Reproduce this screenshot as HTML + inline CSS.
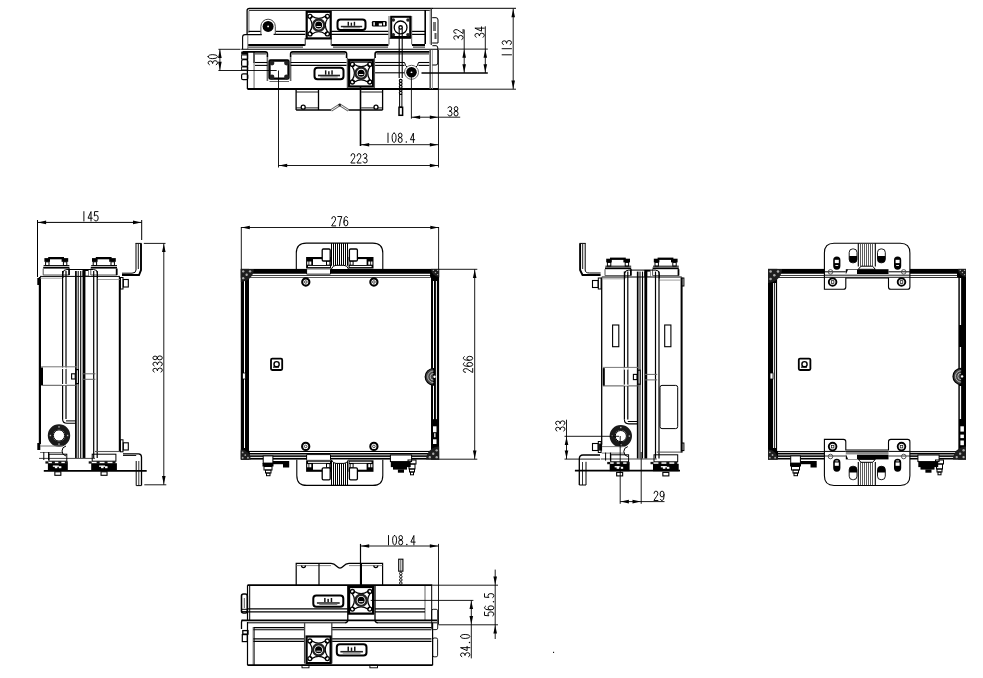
<!DOCTYPE html>
<html><head><meta charset="utf-8"><style>
html,body{margin:0;padding:0;background:#fff;}
body{width:983px;height:678px;overflow:hidden;}
svg{display:block;}
text{font-family:"Liberation Sans",sans-serif;fill:#000;}
</style></head><body>
<svg width="983" height="678" viewBox="0 0 983 678">
<rect width="983" height="678" fill="#fff"/>
<line x1="39.9" y1="277" x2="39.9" y2="444" stroke="#000" stroke-width="2.2"/>
<line x1="119.8" y1="277" x2="119.8" y2="452" stroke="#000" stroke-width="2.0"/>
<line x1="40" y1="276.4" x2="120" y2="276.4" stroke="#000" stroke-width="1.0"/>
<line x1="40" y1="278.2" x2="63" y2="278.2" stroke="#888" stroke-width="0.8"/>
<line x1="97" y1="279.5" x2="120" y2="279.5" stroke="#888" stroke-width="0.8"/>
<rect x="48.2" y="257.0" width="15.8" height="2.3" rx="0" fill="#000"/>
<rect x="44.4" y="258.1" width="5.6" height="3.7" rx="0" fill="#000"/>
<rect x="61.6" y="258.1" width="6.6" height="3.7" rx="0" fill="#000"/>
<rect x="45.6" y="261.8" width="3.4" height="3.7" rx="0" fill="none" stroke="#000" stroke-width="1.0"/>
<rect x="63.4" y="261.8" width="3.4" height="3.7" rx="0" fill="none" stroke="#000" stroke-width="1.0"/>
<line x1="43.6" y1="265.6" x2="69.4" y2="265.6" stroke="#000" stroke-width="1.0"/>
<rect x="43.2" y="266.8" width="26.2" height="1.8" rx="0" fill="#000"/>
<path d="M43.2,268.6 L43.2,275 L69.4,275 L69.4,268.6" fill="none" stroke="#555" stroke-width="1.0"/>
<line x1="69.0" y1="268.6" x2="69.0" y2="275" stroke="#000" stroke-width="1.6"/>
<rect x="95.8" y="257.0" width="15.8" height="2.3" rx="0" fill="#000"/>
<rect x="92.0" y="258.1" width="5.6" height="3.7" rx="0" fill="#000"/>
<rect x="109.2" y="258.1" width="6.6" height="3.7" rx="0" fill="#000"/>
<rect x="93.2" y="261.8" width="3.4" height="3.7" rx="0" fill="none" stroke="#000" stroke-width="1.0"/>
<rect x="111.0" y="261.8" width="3.4" height="3.7" rx="0" fill="none" stroke="#000" stroke-width="1.0"/>
<line x1="91.2" y1="265.6" x2="117.0" y2="265.6" stroke="#000" stroke-width="1.0"/>
<rect x="90.8" y="266.8" width="26.2" height="1.8" rx="0" fill="#000"/>
<path d="M90.8,268.6 L90.8,275 L117.0,275 L117.0,268.6" fill="none" stroke="#555" stroke-width="1.0"/>
<line x1="116.6" y1="268.6" x2="116.6" y2="275" stroke="#000" stroke-width="1.6"/>
<path d="M63,278 L63,273 Q63,269.5 67,269.5 L93.5,269.5 Q97.5,269.5 97.5,273 L97.5,278" fill="none" stroke="#000" stroke-width="1.0"/>
<line x1="75.9" y1="271" x2="75.9" y2="458" stroke="#000" stroke-width="1.7"/>
<line x1="78.2" y1="271" x2="78.2" y2="458" stroke="#000" stroke-width="1.0"/>
<line x1="80.7" y1="271" x2="80.7" y2="458" stroke="#000" stroke-width="1.1"/>
<line x1="84.0" y1="271" x2="84.0" y2="458" stroke="#000" stroke-width="2.8"/>
<line x1="93.7" y1="271" x2="93.7" y2="458" stroke="#000" stroke-width="1.2"/>
<line x1="97.2" y1="271" x2="97.2" y2="458" stroke="#000" stroke-width="1.2"/>
<line x1="62.6" y1="271" x2="62.6" y2="419" stroke="#000" stroke-width="1.2"/>
<line x1="66.0" y1="271" x2="66.0" y2="419" stroke="#000" stroke-width="1.2"/>
<rect x="82.5" y="269.3" width="6.1" height="6.7" rx="0" fill="#000"/>
<rect x="85.6" y="271" width="2.6" height="4.6" rx="0" fill="#fff"/>
<line x1="41.2" y1="366.8" x2="77" y2="366.8" stroke="#777" stroke-width="1.0"/>
<line x1="41.2" y1="385.3" x2="77" y2="385.3" stroke="#555" stroke-width="1.0"/>
<rect x="41.0" y="367.5" width="2" height="17.5" rx="0" fill="#000"/>
<rect x="61.8" y="367.5" width="5" height="17.6" rx="0" fill="#fff"/>
<line x1="62.6" y1="369" x2="62.6" y2="384" stroke="#000" stroke-width="1.0"/>
<line x1="66" y1="369" x2="66" y2="384" stroke="#000" stroke-width="1.0"/>
<rect x="71.6" y="373.8" width="3.6" height="5.2" rx="0" fill="#fff" stroke="#000" stroke-width="1.1"/>
<rect x="76.2" y="369.6" width="2.2" height="14" rx="0" fill="#fff" stroke="#000" stroke-width="1.2"/>
<line x1="82.5" y1="373.8" x2="95.4" y2="373.8" stroke="#666" stroke-width="1.0"/>
<line x1="82.5" y1="379.3" x2="95.4" y2="379.3" stroke="#666" stroke-width="1.0"/>
<path d="M62.6,419 Q62.6,423.3 67,423.3 L76,423.3" fill="none" stroke="#000" stroke-width="1.1"/>
<line x1="66" y1="420.9" x2="76" y2="420.9" stroke="#000" stroke-width="1.0"/>
<circle cx="59" cy="435.5" r="8.6" fill="none" stroke="#1a1a1a" stroke-width="5.2"/>
<circle cx="59" cy="435.5" r="5.6" fill="none" stroke="#000" stroke-width="1.0"/>
<rect x="58.3" y="426.2" width="1.4" height="1.4" rx="0" fill="#bbb"/>
<rect x="66.9" y="434.8" width="1.4" height="1.4" rx="0" fill="#bbb"/>
<rect x="58.3" y="443.4" width="1.4" height="1.4" rx="0" fill="#bbb"/>
<rect x="49.7" y="434.8" width="1.4" height="1.4" rx="0" fill="#bbb"/>
<rect x="37.3" y="443" width="3" height="7" rx="0" fill="#000"/>
<line x1="40" y1="446" x2="63" y2="446" stroke="#777" stroke-width="1.0"/>
<line x1="40" y1="452.5" x2="63" y2="452.5" stroke="#777" stroke-width="1.0"/>
<line x1="39" y1="458.4" x2="95" y2="458.4" stroke="#444" stroke-width="1.0"/>
<path d="M66,446 Q62,447 62,451 Q62,455 66,456" fill="none" stroke="#000" stroke-width="1.0"/>
<line x1="95" y1="451.5" x2="120" y2="451.5" stroke="#555" stroke-width="1.1"/>
<line x1="43.8" y1="452" x2="43.8" y2="460" stroke="#000" stroke-width="1.0"/>
<line x1="48.7" y1="452" x2="48.7" y2="460" stroke="#000" stroke-width="1.2"/>
<rect x="48.9" y="454.2" width="17.9" height="7" rx="0" fill="none" stroke="#000" stroke-width="1.0"/>
<rect x="45.4" y="461.3" width="3" height="2.3" rx="0" fill="#111"/>
<rect x="51.88" y="461.3" width="3" height="2.3" rx="0" fill="#111"/>
<rect x="58.35" y="461.3" width="3" height="2.3" rx="0" fill="#111"/>
<rect x="64.82" y="461.3" width="3" height="2.3" rx="0" fill="#111"/>
<rect x="47.9" y="463.2" width="19.9" height="7.4" rx="0" fill="#000"/>
<rect x="52.85" y="465.5" width="6" height="1.3" rx="0" fill="#fff"/>
<rect x="54.85" y="466.2" width="2.5" height="2" rx="0" fill="#fff"/>
<rect x="58.85" y="466.2" width="2.5" height="2" rx="0" fill="#fff"/>
<rect x="54.85" y="471.8" width="6" height="3.5" rx="0" fill="none" stroke="#000" stroke-width="1.1"/>
<rect x="92.2" y="454.2" width="23.700000000000003" height="7" rx="0" fill="none" stroke="#000" stroke-width="1.0"/>
<rect x="88.7" y="461.3" width="3" height="2.3" rx="0" fill="#111"/>
<rect x="96.62" y="461.3" width="3" height="2.3" rx="0" fill="#111"/>
<rect x="104.55" y="461.3" width="3" height="2.3" rx="0" fill="#111"/>
<rect x="112.48" y="461.3" width="3" height="2.3" rx="0" fill="#111"/>
<rect x="91.2" y="463.2" width="25.700000000000003" height="7.4" rx="0" fill="#000"/>
<rect x="99.05" y="465.5" width="6" height="1.3" rx="0" fill="#fff"/>
<rect x="101.05" y="466.2" width="2.5" height="2" rx="0" fill="#fff"/>
<rect x="105.05" y="466.2" width="2.5" height="2" rx="0" fill="#fff"/>
<rect x="101.05" y="471.8" width="6" height="3.5" rx="0" fill="none" stroke="#000" stroke-width="1.1"/>
<line x1="43.8" y1="470.9" x2="146.7" y2="470.9" stroke="#000" stroke-width="1.9"/>
<rect x="120.4" y="277.5" width="2.6" height="11.5" rx="0" fill="none" stroke="#000" stroke-width="1.0"/>
<rect x="123.3" y="279.5" width="5" height="7.5" rx="0" fill="none" stroke="#000" stroke-width="1.1"/>
<rect x="120.4" y="439.8" width="2.6" height="12" rx="0" fill="none" stroke="#000" stroke-width="1.0"/>
<rect x="123.3" y="442.8" width="5" height="7.2" rx="0" fill="none" stroke="#000" stroke-width="1.1"/>
<path d="M141,243.4 L141,270 L139,275 L122,275" fill="none" stroke="#000" stroke-width="1.9"/>
<path d="M136,243.4 L136,270 Q136,273.2 132,273.2 L122,273.2" fill="none" stroke="#000" stroke-width="1.0"/>
<line x1="135.5" y1="243.4" x2="141.6" y2="243.4" stroke="#000" stroke-width="1.0"/>
<line x1="138.3" y1="244" x2="138.3" y2="269" stroke="#000" stroke-width="0.9"/>
<rect x="37.3" y="278" width="2.6" height="7" rx="0" fill="#000"/>
<path d="M123,453.8 L138.5,453.8 Q141.5,453.8 141.5,457 L141.5,485.6" fill="none" stroke="#000" stroke-width="1.3"/>
<line x1="123" y1="455.5" x2="136.2" y2="455.5" stroke="#000" stroke-width="0.9"/>
<line x1="136.2" y1="461" x2="136.2" y2="485.6" stroke="#000" stroke-width="1.0"/>
<line x1="138.8" y1="461" x2="138.8" y2="485.6" stroke="#000" stroke-width="0.8"/>
<line x1="136.2" y1="485.6" x2="141.5" y2="485.6" stroke="#000" stroke-width="1.0"/>
<line x1="37.4" y1="222.4" x2="141.7" y2="222.4" stroke="#000" stroke-width="1.0"/>
<polygon points="37.9,222.4 46.099999999999994,220.6 46.099999999999994,224.20000000000002" fill="#000"/>
<polygon points="141.2,222.4 133.0,220.6 133.0,224.20000000000002" fill="#000"/>
<line x1="37.5" y1="220" x2="37.5" y2="277" stroke="#000" stroke-width="1.0"/>
<line x1="141.7" y1="220" x2="141.7" y2="240" stroke="#000" stroke-width="1.0"/>
<g transform="translate(90,216.3)"><path transform="translate(-8.10,-4.70)" d="M2,0 L2,9.4" fill="none" stroke="#000" stroke-width="0.95" stroke-linecap="round" stroke-linejoin="round"/><path transform="translate(-2.00,-4.70)" d="M3,9.4 L3,0 L0,6.6 L4.3,6.6" fill="none" stroke="#000" stroke-width="0.95" stroke-linecap="round" stroke-linejoin="round"/><path transform="translate(4.10,-4.70)" d="M3.9,0 L0.5,0 L0.2,4.4 Q0.9,3.5 2.1,3.5 Q4.1,3.5 4.1,6.4 Q4.1,9.4 2,9.4 Q0.5,9.4 0,8.2" fill="none" stroke="#000" stroke-width="0.95" stroke-linecap="round" stroke-linejoin="round"/></g>
<line x1="143.8" y1="243.4" x2="165.5" y2="243.4" stroke="#000" stroke-width="0.9"/>
<line x1="144.3" y1="484.8" x2="166.3" y2="484.8" stroke="#000" stroke-width="0.9"/>
<line x1="163.8" y1="243.4" x2="163.8" y2="484.8" stroke="#000" stroke-width="0.9"/>
<polygon points="163.8,243.9 162.0,252.1 165.60000000000002,252.1" fill="#000"/>
<polygon points="163.8,484.3 162.0,476.1 165.60000000000002,476.1" fill="#000"/>
<g transform="translate(157.6,364) rotate(-90)"><path transform="translate(-8.10,-4.70)" d="M0,1.3 Q0.6,0 2,0 Q3.8,0 3.8,2.3 Q3.8,4.5 1.6,4.5 M1.6,4.5 Q4.1,4.5 4.1,6.9 Q4.1,9.4 2,9.4 Q0.5,9.4 0,8.1" fill="none" stroke="#000" stroke-width="0.95" stroke-linecap="round" stroke-linejoin="round"/><path transform="translate(-2.00,-4.70)" d="M0,1.3 Q0.6,0 2,0 Q3.8,0 3.8,2.3 Q3.8,4.5 1.6,4.5 M1.6,4.5 Q4.1,4.5 4.1,6.9 Q4.1,9.4 2,9.4 Q0.5,9.4 0,8.1" fill="none" stroke="#000" stroke-width="0.95" stroke-linecap="round" stroke-linejoin="round"/><path transform="translate(4.10,-4.70)" d="M2,4.4 Q0.2,4.4 0.2,2.2 Q0.2,0 2,0 Q3.8,0 3.8,2.2 Q3.8,4.4 2,4.4 Q0,4.4 0,6.9 Q0,9.4 2,9.4 Q4,9.4 4,6.9 Q4,4.4 2,4.4 Z" fill="none" stroke="#000" stroke-width="0.95" stroke-linecap="round" stroke-linejoin="round"/></g>
<line x1="601.7" y1="277.6" x2="601.7" y2="444.6" stroke="#000" stroke-width="1.3"/>
<line x1="681.6" y1="277.6" x2="681.6" y2="452.6" stroke="#000" stroke-width="2.0"/>
<line x1="601.8" y1="277.0" x2="681.8" y2="277.0" stroke="#000" stroke-width="1.0"/>
<line x1="601.8" y1="278.8" x2="624.8" y2="278.8" stroke="#888" stroke-width="0.8"/>
<line x1="658.8" y1="280.1" x2="681.8" y2="280.1" stroke="#888" stroke-width="0.8"/>
<rect x="610.0" y="257.6" width="15.8" height="2.3" rx="0" fill="#000"/>
<rect x="606.2" y="258.7" width="5.6" height="3.7" rx="0" fill="#000"/>
<rect x="623.4" y="258.7" width="6.6" height="3.7" rx="0" fill="#000"/>
<rect x="607.4" y="262.4" width="3.4" height="3.7" rx="0" fill="none" stroke="#000" stroke-width="1.0"/>
<rect x="625.2" y="262.4" width="3.4" height="3.7" rx="0" fill="none" stroke="#000" stroke-width="1.0"/>
<line x1="605.4" y1="266.2" x2="631.2" y2="266.2" stroke="#000" stroke-width="1.0"/>
<rect x="605.0" y="267.4" width="26.2" height="1.8" rx="0" fill="#000"/>
<path d="M605.0,269.2 L605.0,275.6 L631.2,275.6 L631.2,269.2" fill="none" stroke="#555" stroke-width="1.0"/>
<line x1="630.8" y1="269.2" x2="630.8" y2="275.6" stroke="#000" stroke-width="1.6"/>
<rect x="657.6" y="257.6" width="15.8" height="2.3" rx="0" fill="#000"/>
<rect x="653.8" y="258.7" width="5.6" height="3.7" rx="0" fill="#000"/>
<rect x="671.0" y="258.7" width="6.6" height="3.7" rx="0" fill="#000"/>
<rect x="655.0" y="262.4" width="3.4" height="3.7" rx="0" fill="none" stroke="#000" stroke-width="1.0"/>
<rect x="672.8" y="262.4" width="3.4" height="3.7" rx="0" fill="none" stroke="#000" stroke-width="1.0"/>
<line x1="653.0" y1="266.2" x2="678.8" y2="266.2" stroke="#000" stroke-width="1.0"/>
<rect x="652.6" y="267.4" width="26.2" height="1.8" rx="0" fill="#000"/>
<path d="M652.6,269.2 L652.6,275.6 L678.8,275.6 L678.8,269.2" fill="none" stroke="#555" stroke-width="1.0"/>
<line x1="678.4" y1="269.2" x2="678.4" y2="275.6" stroke="#000" stroke-width="1.6"/>
<path d="M624.8,278.6 L624.8,273.6 Q624.8,270.1 628.8,270.1 L655.3,270.1 Q659.3,270.1 659.3,273.6 L659.3,278.6" fill="none" stroke="#000" stroke-width="1.0"/>
<line x1="637.7" y1="271.6" x2="637.7" y2="458.6" stroke="#000" stroke-width="1.7"/>
<line x1="640.0" y1="271.6" x2="640.0" y2="458.6" stroke="#000" stroke-width="1.0"/>
<line x1="642.5" y1="271.6" x2="642.5" y2="458.6" stroke="#000" stroke-width="1.1"/>
<line x1="645.8" y1="271.6" x2="645.8" y2="458.6" stroke="#000" stroke-width="2.8"/>
<line x1="655.5" y1="271.6" x2="655.5" y2="458.6" stroke="#000" stroke-width="1.2"/>
<line x1="659.0" y1="271.6" x2="659.0" y2="458.6" stroke="#000" stroke-width="1.2"/>
<line x1="624.4" y1="271.6" x2="624.4" y2="419.6" stroke="#000" stroke-width="1.2"/>
<line x1="627.8" y1="271.6" x2="627.8" y2="419.6" stroke="#000" stroke-width="1.2"/>
<rect x="644.3" y="269.9" width="6.1" height="6.7" rx="0" fill="#000"/>
<rect x="647.4" y="271.6" width="2.6" height="4.6" rx="0" fill="#fff"/>
<line x1="603.0" y1="367.4" x2="638.8" y2="367.4" stroke="#777" stroke-width="1.0"/>
<line x1="603.0" y1="385.9" x2="638.8" y2="385.9" stroke="#555" stroke-width="1.0"/>
<rect x="602.8" y="368.1" width="2" height="17.5" rx="0" fill="#000"/>
<rect x="623.6" y="368.1" width="5" height="17.6" rx="0" fill="#fff"/>
<line x1="624.4" y1="369.6" x2="624.4" y2="384.6" stroke="#000" stroke-width="1.0"/>
<line x1="627.8" y1="369.6" x2="627.8" y2="384.6" stroke="#000" stroke-width="1.0"/>
<rect x="633.4" y="374.4" width="3.6" height="5.2" rx="0" fill="#fff" stroke="#000" stroke-width="1.1"/>
<rect x="638.0" y="370.2" width="2.2" height="14" rx="0" fill="#fff" stroke="#000" stroke-width="1.2"/>
<line x1="644.3" y1="374.4" x2="657.2" y2="374.4" stroke="#666" stroke-width="1.0"/>
<line x1="644.3" y1="379.9" x2="657.2" y2="379.9" stroke="#666" stroke-width="1.0"/>
<path d="M624.4,419.6 Q624.4,423.9 628.8,423.9 L637.8,423.9" fill="none" stroke="#000" stroke-width="1.1"/>
<line x1="627.8" y1="421.5" x2="637.8" y2="421.5" stroke="#000" stroke-width="1.0"/>
<circle cx="620.8" cy="436.1" r="8.6" fill="none" stroke="#1a1a1a" stroke-width="5.2"/>
<circle cx="620.8" cy="436.1" r="5.6" fill="none" stroke="#000" stroke-width="1.0"/>
<rect x="620.1" y="426.8" width="1.4" height="1.4" rx="0" fill="#bbb"/>
<rect x="628.7" y="435.4" width="1.4" height="1.4" rx="0" fill="#bbb"/>
<rect x="620.1" y="444.0" width="1.4" height="1.4" rx="0" fill="#bbb"/>
<rect x="611.5" y="435.4" width="1.4" height="1.4" rx="0" fill="#bbb"/>
<rect x="599.1" y="443.6" width="3" height="7" rx="0" fill="#000"/>
<line x1="601.8" y1="446.6" x2="624.8" y2="446.6" stroke="#777" stroke-width="1.0"/>
<line x1="601.8" y1="453.1" x2="624.8" y2="453.1" stroke="#777" stroke-width="1.0"/>
<line x1="600.8" y1="459.0" x2="656.8" y2="459.0" stroke="#444" stroke-width="1.0"/>
<path d="M627.8,446.6 Q623.8,447.6 623.8,451.6 Q623.8,455.6 627.8,456.6" fill="none" stroke="#000" stroke-width="1.0"/>
<line x1="656.8" y1="452.1" x2="681.8" y2="452.1" stroke="#555" stroke-width="1.1"/>
<line x1="605.6" y1="452.6" x2="605.6" y2="460.6" stroke="#000" stroke-width="1.0"/>
<line x1="610.5" y1="452.6" x2="610.5" y2="460.6" stroke="#000" stroke-width="1.2"/>
<rect x="610.7" y="454.8" width="17.9" height="7" rx="0" fill="none" stroke="#000" stroke-width="1.0"/>
<rect x="607.2" y="461.9" width="3" height="2.3" rx="0" fill="#111"/>
<rect x="613.67" y="461.9" width="3" height="2.3" rx="0" fill="#111"/>
<rect x="620.15" y="461.9" width="3" height="2.3" rx="0" fill="#111"/>
<rect x="626.62" y="461.9" width="3" height="2.3" rx="0" fill="#111"/>
<rect x="609.7" y="463.8" width="19.9" height="7.4" rx="0" fill="#000"/>
<rect x="614.65" y="466.1" width="6" height="1.3" rx="0" fill="#fff"/>
<rect x="616.65" y="466.8" width="2.5" height="2" rx="0" fill="#fff"/>
<rect x="620.65" y="466.8" width="2.5" height="2" rx="0" fill="#fff"/>
<rect x="616.65" y="472.4" width="6" height="3.5" rx="0" fill="none" stroke="#000" stroke-width="1.1"/>
<rect x="654.0" y="454.8" width="23.700000000000003" height="7" rx="0" fill="none" stroke="#000" stroke-width="1.0"/>
<rect x="650.5" y="461.9" width="3" height="2.3" rx="0" fill="#111"/>
<rect x="658.42" y="461.9" width="3" height="2.3" rx="0" fill="#111"/>
<rect x="666.35" y="461.9" width="3" height="2.3" rx="0" fill="#111"/>
<rect x="674.27" y="461.9" width="3" height="2.3" rx="0" fill="#111"/>
<rect x="653.0" y="463.8" width="25.700000000000003" height="7.4" rx="0" fill="#000"/>
<rect x="660.85" y="466.1" width="6" height="1.3" rx="0" fill="#fff"/>
<rect x="662.85" y="466.8" width="2.5" height="2" rx="0" fill="#fff"/>
<rect x="666.85" y="466.8" width="2.5" height="2" rx="0" fill="#fff"/>
<rect x="662.85" y="472.4" width="6" height="3.5" rx="0" fill="none" stroke="#000" stroke-width="1.1"/>
<path d="M580.1,243.4 L580.1,270 L582.5,275 L600.6,275" fill="none" stroke="#000" stroke-width="1.9"/>
<path d="M585.2,243.4 L585.2,270 Q585.2,273 589.5,273 L600.6,273" fill="none" stroke="#000" stroke-width="1.0"/>
<line x1="579.5" y1="243.4" x2="585.7" y2="243.4" stroke="#000" stroke-width="1.0"/>
<line x1="582.7" y1="244" x2="582.7" y2="269" stroke="#000" stroke-width="0.9"/>
<rect x="598.3" y="278" width="2.8" height="11" rx="0" fill="none" stroke="#000" stroke-width="1.0"/>
<rect x="592.5" y="280.5" width="5.6" height="7" rx="0" fill="none" stroke="#000" stroke-width="1.1"/>
<rect x="598.3" y="441.5" width="2.8" height="11" rx="0" fill="none" stroke="#000" stroke-width="1.0"/>
<rect x="592.5" y="443.5" width="5.6" height="7" rx="0" fill="none" stroke="#000" stroke-width="1.1"/>
<path d="M600,455 L583,455 Q579.3,455 579.3,459 L579.3,485" fill="none" stroke="#000" stroke-width="1.3"/>
<line x1="586" y1="461.8" x2="586" y2="485" stroke="#000" stroke-width="1.0"/>
<line x1="582.5" y1="462" x2="582.5" y2="485" stroke="#000" stroke-width="0.8"/>
<line x1="579.3" y1="485" x2="586" y2="485" stroke="#000" stroke-width="1.0"/>
<line x1="574.9" y1="470.6" x2="680" y2="470.6" stroke="#000" stroke-width="1.9"/>
<rect x="681.7" y="278" width="2.2" height="8" rx="0" fill="none" stroke="#000" stroke-width="1.0"/>
<rect x="681.7" y="443" width="2.2" height="7.6" rx="0" fill="none" stroke="#000" stroke-width="1.0"/>
<rect x="612.6" y="325" width="6.2" height="21.7" rx="0" fill="none" stroke="#000" stroke-width="1.1"/>
<rect x="664.7" y="325" width="6.2" height="21.7" rx="0" fill="none" stroke="#000" stroke-width="1.1"/>
<rect x="660" y="385.4" width="17.7" height="43.2" rx="2" fill="none" stroke="#000" stroke-width="1.0"/>
<line x1="564.5" y1="436.3" x2="619" y2="436.3" stroke="#000" stroke-width="0.9"/>
<line x1="564.5" y1="459.1" x2="600" y2="459.1" stroke="#000" stroke-width="0.9"/>
<line x1="566.5" y1="419.7" x2="566.5" y2="459.1" stroke="#000" stroke-width="0.9"/>
<polygon points="566.5,436.8 564.7,445.0 568.3,445.0" fill="#000"/>
<polygon points="566.5,458.6 564.7,450.40000000000003 568.3,450.40000000000003" fill="#000"/>
<g transform="translate(560.3,426) rotate(-90)"><path transform="translate(-5.05,-4.70)" d="M0,1.3 Q0.6,0 2,0 Q3.8,0 3.8,2.3 Q3.8,4.5 1.6,4.5 M1.6,4.5 Q4.1,4.5 4.1,6.9 Q4.1,9.4 2,9.4 Q0.5,9.4 0,8.1" fill="none" stroke="#000" stroke-width="0.95" stroke-linecap="round" stroke-linejoin="round"/><path transform="translate(1.05,-4.70)" d="M0,1.3 Q0.6,0 2,0 Q3.8,0 3.8,2.3 Q3.8,4.5 1.6,4.5 M1.6,4.5 Q4.1,4.5 4.1,6.9 Q4.1,9.4 2,9.4 Q0.5,9.4 0,8.1" fill="none" stroke="#000" stroke-width="0.95" stroke-linecap="round" stroke-linejoin="round"/></g>
<line x1="620.2" y1="436" x2="620.2" y2="503.8" stroke="#000" stroke-width="0.9"/>
<line x1="641.2" y1="452" x2="641.2" y2="503.8" stroke="#000" stroke-width="0.9"/>
<line x1="620.2" y1="501.6" x2="664.5" y2="501.6" stroke="#000" stroke-width="0.9"/>
<polygon points="620.7,501.6 628.9000000000001,499.8 628.9000000000001,503.40000000000003" fill="#000"/>
<polygon points="640.7,501.6 632.5,499.8 632.5,503.40000000000003" fill="#000"/>
<g transform="translate(659,495.8)"><path transform="translate(-5.05,-4.70)" d="M0.1,2.2 Q0.2,0 2,0 Q3.9,0 3.9,2.3 Q3.9,4 2.4,5.6 L0,9.2 L0,9.4 L4,9.4" fill="none" stroke="#000" stroke-width="0.95" stroke-linecap="round" stroke-linejoin="round"/><path transform="translate(1.05,-4.70)" d="M0.3,8.4 Q0.9,9.4 2,9.4 Q4,9.4 4,4.7 L4,3.1 Q4,0 2,0 Q0,0 0,3 Q0,5.8 2,5.8 Q4,5.8 4,3.4" fill="none" stroke="#000" stroke-width="0.95" stroke-linecap="round" stroke-linejoin="round"/></g>
<rect x="768.0" y="268.9" width="198.0" height="9.0" rx="0" fill="#000"/>
<rect x="768.0" y="450.9" width="198.0" height="8.6" rx="0" fill="#000"/>
<rect x="768.0" y="268.9" width="9.3" height="190.6" rx="0" fill="#000"/>
<rect x="958.2" y="268.9" width="7.8" height="190.6" rx="0" fill="#000"/>
<rect x="777.3" y="277.9" width="180.90000000000003" height="173" rx="0" fill="#fff"/>
<line x1="778.0" y1="274.5" x2="957.0" y2="274.5" stroke="#fff" stroke-width="1.3"/>
<line x1="778.0" y1="276.5" x2="957.0" y2="276.5" stroke="#fff" stroke-width="1.1"/>
<line x1="778.0" y1="452.4" x2="957.0" y2="452.4" stroke="#fff" stroke-width="0.9"/>
<line x1="778.0" y1="454.85" x2="957.0" y2="454.85" stroke="#aaa" stroke-width="1.4"/>
<line x1="778.0" y1="457.4" x2="957.0" y2="457.4" stroke="#fff" stroke-width="1.0"/>
<line x1="773.6" y1="283" x2="773.6" y2="448" stroke="#fff" stroke-width="1.0"/>
<line x1="775.4" y1="283" x2="775.4" y2="448" stroke="#fff" stroke-width="1.0"/>
<rect x="959.8" y="278" width="1.3" height="47" rx="0" fill="#fff"/>
<rect x="959.8" y="347" width="1.3" height="25" rx="0" fill="#fff"/>
<rect x="959.8" y="386" width="1.3" height="33" rx="0" fill="#fff"/>
<path d="M768.0,268.9 L782.0,268.9 A14,14 0 0 1 768.0,282.9 Z" fill="#1e1e1e" stroke="#000" stroke-width="0"/>
<circle cx="770.59" cy="271.49" r="1.26" fill="#aaa" stroke="#000" stroke-width="0"/>
<circle cx="770.59" cy="278.91" r="1.26" fill="#aaa" stroke="#000" stroke-width="0"/>
<circle cx="774.3" cy="275.2" r="1.26" fill="#aaa" stroke="#000" stroke-width="0"/>
<circle cx="778.01" cy="271.49" r="1.26" fill="#aaa" stroke="#000" stroke-width="0"/>
<path d="M966.0,268.9 L958.0,268.9 A8,8 0 0 0 966.0,276.9 Z" fill="#1e1e1e" stroke="#000" stroke-width="0"/>
<circle cx="964.52" cy="270.38" r="0.72" fill="#aaa" stroke="#000" stroke-width="0"/>
<circle cx="964.52" cy="274.62" r="0.72" fill="#aaa" stroke="#000" stroke-width="0"/>
<circle cx="962.4" cy="272.5" r="0.72" fill="#aaa" stroke="#000" stroke-width="0"/>
<circle cx="960.28" cy="270.38" r="0.72" fill="#aaa" stroke="#000" stroke-width="0"/>
<path d="M768.0,459.5 L778.0,459.5 A10,10 0 0 0 768.0,449.5 Z" fill="#1e1e1e" stroke="#000" stroke-width="0"/>
<circle cx="769.85" cy="457.65" r="0.8999999999999999" fill="#aaa" stroke="#000" stroke-width="0"/>
<circle cx="769.85" cy="452.35" r="0.8999999999999999" fill="#aaa" stroke="#000" stroke-width="0"/>
<circle cx="772.5" cy="455.0" r="0.8999999999999999" fill="#aaa" stroke="#000" stroke-width="0"/>
<circle cx="775.15" cy="457.65" r="0.8999999999999999" fill="#aaa" stroke="#000" stroke-width="0"/>
<path d="M966.0,459.5 L953.0,459.5 A13,13 0 0 1 966.0,446.5 Z" fill="#1e1e1e" stroke="#000" stroke-width="0"/>
<circle cx="963.59" cy="457.09" r="1.17" fill="#aaa" stroke="#000" stroke-width="0"/>
<circle cx="963.59" cy="450.21" r="1.17" fill="#aaa" stroke="#000" stroke-width="0"/>
<circle cx="960.15" cy="453.65" r="1.17" fill="#aaa" stroke="#000" stroke-width="0"/>
<circle cx="956.71" cy="457.09" r="1.17" fill="#aaa" stroke="#000" stroke-width="0"/>
<path d="M824.4,289.3 L824.4,253 Q824.4,243.3 834,243.3 L900.3,243.3 Q909.9,243.3 909.9,253 L909.9,287 Q909.9,289.3 907.6,289.3 L890.8,289.3 Q888.5,289.3 888.5,287 L888.5,278 L845.8,278 L845.8,287 Q845.8,289.3 843.5,289.3 Z" fill="#fff" stroke="#000" stroke-width="1.1"/>
<line x1="824.4" y1="275.2" x2="909.9" y2="275.2" stroke="#000" stroke-width="0.9"/>
<line x1="824.4" y1="277.3" x2="909.9" y2="277.3" stroke="#000" stroke-width="0.9"/>
<line x1="824.4" y1="271.8" x2="845.8" y2="271.8" stroke="#000" stroke-width="1.0"/>
<line x1="888.5" y1="271.8" x2="909.9" y2="271.8" stroke="#000" stroke-width="1.0"/>
<rect x="845.8" y="269.2" width="42.7" height="4.8" rx="0" fill="#000"/>
<path d="M846,274 L848,269.8 L857,269.8 L857,274 Z" fill="#fff" stroke="#000" stroke-width="0"/>
<line x1="858.3" y1="243.3" x2="858.3" y2="266.5" stroke="#000" stroke-width="1.1"/>
<line x1="875.3" y1="243.3" x2="875.3" y2="266.5" stroke="#000" stroke-width="1.1"/>
<line x1="860.5" y1="243.8" x2="860.5" y2="266.5" stroke="#333" stroke-width="0.8"/>
<line x1="862.5" y1="243.8" x2="862.5" y2="266.5" stroke="#333" stroke-width="0.8"/>
<line x1="864.5" y1="243.8" x2="864.5" y2="266.5" stroke="#333" stroke-width="0.8"/>
<line x1="866.5" y1="243.8" x2="866.5" y2="266.5" stroke="#333" stroke-width="0.8"/>
<line x1="868.5" y1="243.8" x2="868.5" y2="266.5" stroke="#333" stroke-width="0.8"/>
<line x1="870.5" y1="243.8" x2="870.5" y2="266.5" stroke="#333" stroke-width="0.8"/>
<line x1="872.5" y1="243.8" x2="872.5" y2="266.5" stroke="#333" stroke-width="0.8"/>
<path d="M858.3,269.3 L861,266.2 L872.6,266.2 L875.3,269.3 Z" fill="#fff" stroke="#000" stroke-width="1.0"/>
<rect x="849.2" y="248.9" width="7.8" height="13.9" rx="3.5" fill="#fff" stroke="#000" stroke-width="0.9"/>
<path d="M849.2,256 L857.0,256 L857.0,259.5 Q857.0,262.8 853.1,262.8 Q849.2,262.8 849.2,259.5 Z" fill="#000" stroke="#000" stroke-width="0"/>
<rect x="877.5" y="248.9" width="7.8" height="13.9" rx="3.5" fill="#fff" stroke="#000" stroke-width="0.9"/>
<path d="M877.5,256 L885.3,256 L885.3,259.5 Q885.3,262.8 881.4,262.8 Q877.5,262.8 877.5,259.5 Z" fill="#000" stroke="#000" stroke-width="0"/>
<rect x="833.2" y="256.4" width="7.2" height="13.3" rx="3.6" fill="#000" stroke="#000" stroke-width="0"/>
<rect x="834.8000000000001" y="259.8" width="4" height="3.3" rx="0" fill="#fff"/>
<rect x="835.4000000000001" y="265" width="2.8" height="0.9" rx="0" fill="#fff"/>
<rect x="894.0" y="256.4" width="7.2" height="13.3" rx="3.6" fill="#000" stroke="#000" stroke-width="0"/>
<rect x="895.6" y="259.8" width="4" height="3.3" rx="0" fill="#fff"/>
<rect x="896.2" y="265" width="2.8" height="0.9" rx="0" fill="#fff"/>
<circle cx="832.6" cy="282" r="3.8" fill="none" stroke="#000" stroke-width="1.9"/>
<rect x="831.3000000000001" y="280.7" width="2.6" height="2.6" rx="0" fill="none" stroke="#000" stroke-width="0.7"/>
<circle cx="901.5" cy="282" r="3.8" fill="none" stroke="#000" stroke-width="1.9"/>
<rect x="900.2" y="280.7" width="2.6" height="2.6" rx="0" fill="none" stroke="#000" stroke-width="0.7"/>
<circle cx="830.5" cy="271.9" r="2.3" fill="none" stroke="#444" stroke-width="0.9"/>
<circle cx="903.7" cy="271.9" r="2.3" fill="none" stroke="#444" stroke-width="0.9"/>
<path d="M824.4,439.4 L824.4,475.8 Q824.4,485.5 834,485.5 L900.3,485.5 Q909.9,485.5 909.9,475.8 L909.9,441.7 Q909.9,439.4 907.6,439.4 L890.8,439.4 Q888.5,439.4 888.5,441.7 L888.5,450 L845.8,450 L845.8,441.7 Q845.8,439.4 843.5,439.4 Z" fill="#fff" stroke="#000" stroke-width="1.1"/>
<line x1="845.8" y1="451.4" x2="888.5" y2="451.4" stroke="#000" stroke-width="1.0"/>
<line x1="845.8" y1="453" x2="888.5" y2="453" stroke="#000" stroke-width="0.9"/>
<line x1="824.4" y1="451.4" x2="845.8" y2="451.4" stroke="#000" stroke-width="1.0"/>
<line x1="888.5" y1="451.4" x2="909.9" y2="451.4" stroke="#000" stroke-width="1.0"/>
<line x1="824.4" y1="456" x2="845.8" y2="456" stroke="#000" stroke-width="0.8"/>
<line x1="888.5" y1="456" x2="909.9" y2="456" stroke="#000" stroke-width="0.8"/>
<rect x="845.8" y="454.6" width="42.7" height="4.8" rx="0" fill="#000"/>
<path d="M846,454.6 L848,459 L857,459 L857,454.6 Z" fill="#fff" stroke="#000" stroke-width="0"/>
<line x1="858.3" y1="462" x2="858.3" y2="485.5" stroke="#000" stroke-width="1.1"/>
<line x1="875.3" y1="462" x2="875.3" y2="485.5" stroke="#000" stroke-width="1.1"/>
<line x1="860.5" y1="462" x2="860.5" y2="485" stroke="#333" stroke-width="0.8"/>
<line x1="862.5" y1="462" x2="862.5" y2="485" stroke="#333" stroke-width="0.8"/>
<line x1="864.5" y1="462" x2="864.5" y2="485" stroke="#333" stroke-width="0.8"/>
<line x1="866.5" y1="462" x2="866.5" y2="485" stroke="#333" stroke-width="0.8"/>
<line x1="868.5" y1="462" x2="868.5" y2="485" stroke="#333" stroke-width="0.8"/>
<line x1="870.5" y1="462" x2="870.5" y2="485" stroke="#333" stroke-width="0.8"/>
<line x1="872.5" y1="462" x2="872.5" y2="485" stroke="#333" stroke-width="0.8"/>
<path d="M858.3,459.4 L861,462.3 L872.6,462.3 L875.3,459.4 Z" fill="#fff" stroke="#000" stroke-width="1.0"/>
<rect x="849.2" y="466.3" width="7.8" height="13.4" rx="3.5" fill="#fff" stroke="#000" stroke-width="0.9"/>
<path d="M849.2,472.5 L857.0,472.5 L857.0,469.5 Q857.0,466.3 853.1,466.3 Q849.2,466.3 849.2,469.5 Z" fill="#000" stroke="#000" stroke-width="0"/>
<rect x="877.5" y="466.3" width="7.8" height="13.4" rx="3.5" fill="#fff" stroke="#000" stroke-width="0.9"/>
<path d="M877.5,472.5 L885.3,472.5 L885.3,469.5 Q885.3,466.3 881.4,466.3 Q877.5,466.3 877.5,469.5 Z" fill="#000" stroke="#000" stroke-width="0"/>
<rect x="833.2" y="458.8" width="7.2" height="12.9" rx="3.6" fill="#000" stroke="#000" stroke-width="0"/>
<rect x="834.8000000000001" y="462.5" width="4" height="3.3" rx="0" fill="#fff"/>
<rect x="835.4000000000001" y="460.5" width="2.8" height="0.9" rx="0" fill="#fff"/>
<rect x="894.0" y="458.8" width="7.2" height="12.9" rx="3.6" fill="#000" stroke="#000" stroke-width="0"/>
<rect x="895.6" y="462.5" width="4" height="3.3" rx="0" fill="#fff"/>
<rect x="896.2" y="460.5" width="2.8" height="0.9" rx="0" fill="#fff"/>
<circle cx="832.6" cy="446.6" r="3.8" fill="none" stroke="#000" stroke-width="1.9"/>
<rect x="831.3000000000001" y="445.3" width="2.6" height="2.6" rx="0" fill="none" stroke="#000" stroke-width="0.7"/>
<circle cx="901.5" cy="446.6" r="3.8" fill="none" stroke="#000" stroke-width="1.9"/>
<rect x="900.2" y="445.3" width="2.6" height="2.6" rx="0" fill="none" stroke="#000" stroke-width="0.7"/>
<circle cx="830.5" cy="456.5" r="2.3" fill="none" stroke="#444" stroke-width="0.9"/>
<circle cx="903.7" cy="456.5" r="2.3" fill="none" stroke="#444" stroke-width="0.9"/>
<rect x="798.8" y="358.6" width="11.6" height="11.4" rx="1.2" fill="none" stroke="#000" stroke-width="1.8"/>
<circle cx="804.5" cy="364.2" r="2.6" fill="none" stroke="#000" stroke-width="1.4"/>
<rect x="801" y="366.5" width="6" height="1.2" rx="0" fill="#000"/>
<rect x="770" y="373" width="3" height="6" rx="0" fill="#fff" stroke="#000" stroke-width="0.8"/>
<path d="M961.1,368.29999999999995 A8.1,8.1 0 0 0 961.1,384.5 Z" fill="#444" stroke="#000" stroke-width="1.2"/>
<path d="M961.1,370.72999999999996 A5.669999999999999,5.669999999999999 0 0 0 961.1,382.07" fill="none" stroke="#ccc" stroke-width="0.8"/>
<path d="M961.1,373.15999999999997 A3.24,3.24 0 0 0 961.1,379.64" fill="none" stroke="#ccc" stroke-width="0.8"/>
<circle cx="962.1" cy="376.4" r="1.2" fill="#fff" stroke="#000" stroke-width="0"/>
<rect x="960.4" y="426.3" width="3.5" height="5.3" rx="0" fill="#fff"/>
<rect x="960.4" y="434.6" width="3.5" height="3.5" rx="0" fill="#fff"/>
<rect x="960.4" y="440.5" width="3.5" height="4.7" rx="0" fill="#fff"/>
<rect x="790.7" y="455.9" width="9.7" height="7.2" rx="0" fill="#fff" stroke="#000" stroke-width="1.0"/>
<rect x="790" y="463" width="11" height="3.5" rx="0" fill="#000"/>
<rect x="791.5" y="466.5" width="8" height="3.5" rx="0" fill="none" stroke="#000" stroke-width="1.0"/>
<rect x="793" y="470" width="5.5" height="3" rx="0" fill="none" stroke="#000" stroke-width="1.0"/>
<rect x="794" y="473" width="3.5" height="2.7" rx="0" fill="none" stroke="#000" stroke-width="1.0"/>
<rect x="800.4" y="461" width="16.3" height="3.2" rx="0" fill="#000"/>
<rect x="810.5" y="464" width="6.2" height="3.5" rx="0" fill="#000"/>
<rect x="917.9" y="455" width="21.2" height="6.6" rx="0" fill="#fff" stroke="#000" stroke-width="1.0"/>
<rect x="918.3" y="461.6" width="19.9" height="5.5" rx="0" fill="#000"/>
<rect x="920.5" y="467" width="14" height="2.6" rx="0" fill="#000"/>
<rect x="925.4" y="469.4" width="6.1" height="3.3" rx="0" fill="#000"/>
<rect x="935.5" y="460" width="8" height="4" rx="0" fill="none" stroke="#000" stroke-width="1.0"/>
<rect x="936.5" y="464" width="6" height="5" rx="0" fill="none" stroke="#000" stroke-width="1.0"/>
<rect x="937" y="469" width="5" height="3" rx="0" fill="none" stroke="#000" stroke-width="1.0"/>
<rect x="938" y="472" width="3" height="2.8" rx="0" fill="none" stroke="#000" stroke-width="1.0"/>
<path d="M296.2,585.2 L296.2,563.3 L331,563.3 Q334,563.3 337,566.5 Q340,569.6 343,566.5 Q346,563.3 349,563.3 L382.6,563.3 L382.6,585.2" fill="none" stroke="#000" stroke-width="1.2"/>
<line x1="296.2" y1="565.6" x2="331" y2="565.6" stroke="#666" stroke-width="0.8"/>
<line x1="349" y1="565.6" x2="382.6" y2="565.6" stroke="#666" stroke-width="0.8"/>
<line x1="319" y1="563.3" x2="319" y2="585.2" stroke="#000" stroke-width="1.2"/>
<line x1="361.4" y1="563.3" x2="361.4" y2="585.2" stroke="#000" stroke-width="1.2"/>
<path d="M301.5,565.6 A2,2 0 0 0 305.5,565.6" fill="none" stroke="#000" stroke-width="1.2"/>
<path d="M373.8,565.6 A2,2 0 0 0 377.8,565.6" fill="none" stroke="#000" stroke-width="1.2"/>
<rect x="398.7" y="559.2" width="4.2" height="12" rx="0" fill="none" stroke="#000" stroke-width="1.1"/>
<line x1="400.8" y1="560" x2="400.8" y2="571" stroke="#000" stroke-width="0.7"/>
<circle cx="400.8" cy="573.5" r="1.3" fill="none" stroke="#000" stroke-width="0.9"/>
<circle cx="400.8" cy="576.7" r="1.3" fill="none" stroke="#000" stroke-width="0.9"/>
<circle cx="400.8" cy="579.9" r="1.3" fill="none" stroke="#000" stroke-width="0.9"/>
<circle cx="400.8" cy="583.1" r="1.3" fill="none" stroke="#000" stroke-width="0.9"/>
<line x1="247.5" y1="585.2" x2="432.5" y2="585.2" stroke="#000" stroke-width="1.8"/>
<line x1="247.5" y1="585.2" x2="247.5" y2="620.3" stroke="#000" stroke-width="1.2"/>
<line x1="431.7" y1="585.2" x2="431.7" y2="621" stroke="#000" stroke-width="1.0"/>
<line x1="425" y1="586" x2="425" y2="620" stroke="#555" stroke-width="0.9"/>
<line x1="248" y1="608.9" x2="347.8" y2="608.9" stroke="#000" stroke-width="1.3"/>
<line x1="375" y1="608.9" x2="425" y2="608.9" stroke="#000" stroke-width="1.3"/>
<line x1="248" y1="611.8" x2="347.8" y2="611.8" stroke="#000" stroke-width="1.3"/>
<line x1="375" y1="611.8" x2="425" y2="611.8" stroke="#000" stroke-width="1.3"/>
<line x1="241.4" y1="620.3" x2="437" y2="620.3" stroke="#000" stroke-width="1.8"/>
<rect x="241.5" y="594" width="5.8" height="19" rx="2" fill="none" stroke="#000" stroke-width="1.6"/>
<line x1="244.3" y1="598" x2="244.3" y2="608" stroke="#555" stroke-width="1.0"/>
<line x1="249.7" y1="585.5" x2="249.7" y2="620" stroke="#000" stroke-width="1.0"/>
<line x1="241.5" y1="609.3" x2="247.5" y2="609.3" stroke="#000" stroke-width="1.0"/>
<line x1="241.5" y1="611.6" x2="247.5" y2="611.6" stroke="#000" stroke-width="1.0"/>
<rect x="313.3" y="595.5" width="30" height="11.2" rx="3" fill="none" stroke="#000" stroke-width="2.0"/>
<rect x="324.1" y="597.964" width="1.5" height="4.255999999999999" rx="0" fill="#111"/>
<rect x="327.40000000000003" y="598.86" width="1.5" height="3.36" rx="0" fill="#111"/>
<rect x="330.7" y="597.964" width="1.5" height="4.255999999999999" rx="0" fill="#111"/>
<rect x="316.90000000000003" y="602.22" width="22.8" height="1.568" rx="0" fill="#222"/>
<rect x="319.3" y="603.788" width="18.0" height="1.1199999999999999" rx="0" fill="#777"/>
<path d="M347.8,585.2 L347.8,620 Q347.8,622.8 345,622.8 M375,585.2 L375,620 Q375,622.8 378,622.8" fill="none" stroke="#000" stroke-width="1.3"/>
<line x1="348.5" y1="613.6" x2="374.3" y2="613.6" stroke="#000" stroke-width="1.1"/>
<rect x="349.1" y="587.0" width="24.0" height="26.6" rx="0" fill="none" stroke="#000" stroke-width="2.2"/>
<circle cx="352.4" cy="591.5" r="2.0" fill="none" stroke="#000" stroke-width="1.3"/>
<circle cx="352.4" cy="609.1" r="2.0" fill="none" stroke="#000" stroke-width="1.3"/>
<circle cx="369.8" cy="591.5" r="2.0" fill="none" stroke="#000" stroke-width="1.3"/>
<circle cx="369.8" cy="609.1" r="2.0" fill="none" stroke="#000" stroke-width="1.3"/>
<path d="M354.5,591.4999999999999 Q361.1,595.8 367.70000000000005,591.4999999999999 L369.90000000000003,593.6999999999999 Q365.6,600.3 369.90000000000003,606.9 L367.70000000000005,609.1 Q361.1,604.8 354.5,609.1 L352.3,606.9 Q356.6,600.3 352.3,593.6999999999999 Z" fill="none" stroke="#000" stroke-width="1.2"/>
<circle cx="361.1" cy="600.3" r="5.6" fill="none" stroke="#222" stroke-width="2.4"/>
<circle cx="361.1" cy="600.3" r="3.5" fill="#000" stroke="#000" stroke-width="0"/>
<rect x="358.90000000000003" y="601.1999999999999" width="4.4" height="0.9" rx="0" fill="#fff"/>
<line x1="370.7" y1="600.4" x2="473.4" y2="600.4" stroke="#000" stroke-width="0.9"/>
<rect x="431.7" y="609.3" width="6" height="20.3" rx="1.5" fill="none" stroke="#000" stroke-width="0.9"/>
<rect x="432.6" y="638" width="5" height="18.8" rx="1.5" fill="none" stroke="#000" stroke-width="0.9"/>
<line x1="247.5" y1="622.8" x2="345" y2="622.8" stroke="#000" stroke-width="1.0"/>
<line x1="378" y1="622.8" x2="437" y2="622.8" stroke="#000" stroke-width="1.0"/>
<line x1="253" y1="627.6" x2="304.6" y2="627.6" stroke="#000" stroke-width="1.4"/>
<line x1="331.8" y1="627.6" x2="431.5" y2="627.6" stroke="#000" stroke-width="1.4"/>
<line x1="253" y1="629.8" x2="304.6" y2="629.8" stroke="#000" stroke-width="1.1"/>
<line x1="331.8" y1="629.8" x2="431.5" y2="629.8" stroke="#000" stroke-width="1.1"/>
<line x1="253" y1="638.9" x2="304.6" y2="638.9" stroke="#000" stroke-width="1.2"/>
<line x1="331.8" y1="638.9" x2="431.5" y2="638.9" stroke="#000" stroke-width="1.2"/>
<line x1="253" y1="641.4" x2="304.6" y2="641.4" stroke="#000" stroke-width="1.2"/>
<line x1="331.8" y1="641.4" x2="431.5" y2="641.4" stroke="#000" stroke-width="1.2"/>
<line x1="247.5" y1="622" x2="247.5" y2="665.2" stroke="#000" stroke-width="1.2"/>
<line x1="253" y1="627" x2="253" y2="665" stroke="#999" stroke-width="1.0"/>
<line x1="432.6" y1="622.8" x2="432.6" y2="665.2" stroke="#000" stroke-width="1.2"/>
<line x1="247.5" y1="665.2" x2="432.6" y2="665.2" stroke="#000" stroke-width="1.8"/>
<path d="M243,620.3 Q241.5,620.3 241.5,622 L241.5,629" fill="none" stroke="#000" stroke-width="1.3"/>
<rect x="242.8" y="630.6" width="5.2" height="3.5" rx="0" fill="none" stroke="#000" stroke-width="1.3"/>
<rect x="242.3" y="634.6" width="5" height="7" rx="0" fill="none" stroke="#000" stroke-width="1.2"/>
<line x1="254.1" y1="628" x2="254.1" y2="665" stroke="#000" stroke-width="1.0"/>
<rect x="302" y="665.2" width="7" height="2.6" rx="0" fill="none" stroke="#000" stroke-width="0.9"/>
<rect x="369.9" y="665.2" width="7.6" height="2.6" rx="0" fill="none" stroke="#000" stroke-width="0.9"/>
<path d="M304.6,622.8 L304.6,663.5 M331.8,622.8 L331.8,663.5" fill="none" stroke="#444" stroke-width="1.3"/>
<rect x="306.6" y="636.5" width="24.0" height="26.6" rx="0" fill="none" stroke="#000" stroke-width="2.2"/>
<circle cx="309.9" cy="641.0" r="2.0" fill="none" stroke="#000" stroke-width="1.3"/>
<circle cx="309.9" cy="658.6" r="2.0" fill="none" stroke="#000" stroke-width="1.3"/>
<circle cx="327.3" cy="641.0" r="2.0" fill="none" stroke="#000" stroke-width="1.3"/>
<circle cx="327.3" cy="658.6" r="2.0" fill="none" stroke="#000" stroke-width="1.3"/>
<path d="M312.0,640.9999999999999 Q318.6,645.3 325.20000000000005,640.9999999999999 L327.40000000000003,643.1999999999999 Q323.1,649.8 327.40000000000003,656.4 L325.20000000000005,658.6 Q318.6,654.3 312.0,658.6 L309.8,656.4 Q314.1,649.8 309.8,643.1999999999999 Z" fill="none" stroke="#000" stroke-width="1.2"/>
<circle cx="318.6" cy="649.8" r="5.6" fill="none" stroke="#222" stroke-width="2.4"/>
<circle cx="318.6" cy="649.8" r="3.5" fill="#000" stroke="#000" stroke-width="0"/>
<rect x="316.40000000000003" y="650.6999999999999" width="4.4" height="0.9" rx="0" fill="#fff"/>
<rect x="336.8" y="644.2" width="29.7" height="11.2" rx="3" fill="none" stroke="#000" stroke-width="2.0"/>
<rect x="347.492" y="646.6640000000001" width="1.485" height="4.255999999999999" rx="0" fill="#111"/>
<rect x="350.759" y="647.5600000000001" width="1.485" height="3.36" rx="0" fill="#111"/>
<rect x="354.026" y="646.6640000000001" width="1.485" height="4.255999999999999" rx="0" fill="#111"/>
<rect x="340.36400000000003" y="650.9200000000001" width="22.572" height="1.568" rx="0" fill="#222"/>
<rect x="342.74" y="652.488" width="17.82" height="1.1199999999999999" rx="0" fill="#777"/>
<line x1="360.5" y1="543.9" x2="360.5" y2="585.2" stroke="#000" stroke-width="1.2"/>
<line x1="438.5" y1="543.9" x2="438.5" y2="624.5" stroke="#000" stroke-width="0.9"/>
<line x1="360.5" y1="546" x2="438.5" y2="546" stroke="#000" stroke-width="0.9"/>
<polygon points="361,546 369.2,544.2 369.2,547.8" fill="#000"/>
<polygon points="438,546 429.8,544.2 429.8,547.8" fill="#000"/>
<g transform="translate(400.7,540.2)"><path transform="translate(-14.20,-4.70)" d="M2,0 L2,9.4" fill="none" stroke="#000" stroke-width="0.95" stroke-linecap="round" stroke-linejoin="round"/><path transform="translate(-8.10,-4.70)" d="M2,0 Q0,0 0,4.7 Q0,9.4 2,9.4 Q4,9.4 4,4.7 Q4,0 2,0 Z" fill="none" stroke="#000" stroke-width="0.95" stroke-linecap="round" stroke-linejoin="round"/><path transform="translate(-2.00,-4.70)" d="M2,4.4 Q0.2,4.4 0.2,2.2 Q0.2,0 2,0 Q3.8,0 3.8,2.2 Q3.8,4.4 2,4.4 Q0,4.4 0,6.9 Q0,9.4 2,9.4 Q4,9.4 4,6.9 Q4,4.4 2,4.4 Z" fill="none" stroke="#000" stroke-width="0.95" stroke-linecap="round" stroke-linejoin="round"/><circle cx="6.10" cy="4.30" r="0.75" fill="#000"/><path transform="translate(10.20,-4.70)" d="M3,9.4 L3,0 L0,6.6 L4.3,6.6" fill="none" stroke="#000" stroke-width="0.95" stroke-linecap="round" stroke-linejoin="round"/></g>
<line x1="432.8" y1="585.2" x2="498" y2="585.2" stroke="#000" stroke-width="0.9"/>
<line x1="438.5" y1="624.8" x2="498" y2="624.8" stroke="#000" stroke-width="0.9"/>
<line x1="495.2" y1="569.6" x2="495.2" y2="639" stroke="#000" stroke-width="0.9"/>
<polygon points="495.2,584.7 493.4,576.5 497.0,576.5" fill="#000"/>
<polygon points="495.2,625.3 493.4,633.5 497.0,633.5" fill="#000"/>
<g transform="translate(489.2,604.8) rotate(-90)"><path transform="translate(-11.15,-4.70)" d="M3.9,0 L0.5,0 L0.2,4.4 Q0.9,3.5 2.1,3.5 Q4.1,3.5 4.1,6.4 Q4.1,9.4 2,9.4 Q0.5,9.4 0,8.2" fill="none" stroke="#000" stroke-width="0.95" stroke-linecap="round" stroke-linejoin="round"/><path transform="translate(-5.05,-4.70)" d="M3.7,1.0 Q3.1,0 2,0 Q0,0 0,4.7 L0,6.3 Q0,9.4 2,9.4 Q4,9.4 4,6.4 Q4,3.6 2,3.6 Q0,3.6 0,6" fill="none" stroke="#000" stroke-width="0.95" stroke-linecap="round" stroke-linejoin="round"/><circle cx="3.05" cy="4.30" r="0.75" fill="#000"/><path transform="translate(7.15,-4.70)" d="M3.9,0 L0.5,0 L0.2,4.4 Q0.9,3.5 2.1,3.5 Q4.1,3.5 4.1,6.4 Q4.1,9.4 2,9.4 Q0.5,9.4 0,8.2" fill="none" stroke="#000" stroke-width="0.95" stroke-linecap="round" stroke-linejoin="round"/></g>
<line x1="471.3" y1="600.4" x2="471.3" y2="658.4" stroke="#000" stroke-width="0.9"/>
<polygon points="471.3,600.9 469.5,609.1 473.1,609.1" fill="#000"/>
<polygon points="471.3,624.3 469.5,616.0999999999999 473.1,616.0999999999999" fill="#000"/>
<g transform="translate(465.2,645.6) rotate(-90)"><path transform="translate(-11.15,-4.70)" d="M0,1.3 Q0.6,0 2,0 Q3.8,0 3.8,2.3 Q3.8,4.5 1.6,4.5 M1.6,4.5 Q4.1,4.5 4.1,6.9 Q4.1,9.4 2,9.4 Q0.5,9.4 0,8.1" fill="none" stroke="#000" stroke-width="0.95" stroke-linecap="round" stroke-linejoin="round"/><path transform="translate(-5.05,-4.70)" d="M3,9.4 L3,0 L0,6.6 L4.3,6.6" fill="none" stroke="#000" stroke-width="0.95" stroke-linecap="round" stroke-linejoin="round"/><circle cx="3.05" cy="4.30" r="0.75" fill="#000"/><path transform="translate(7.15,-4.70)" d="M2,0 Q0,0 0,4.7 Q0,9.4 2,9.4 Q4,9.4 4,4.7 Q4,0 2,0 Z" fill="none" stroke="#000" stroke-width="0.95" stroke-linecap="round" stroke-linejoin="round"/></g>
<rect x="553" y="651.8" width="1.1" height="1.1" rx="0" fill="#000"/>
<path d="M247.1,34 L247.1,10.5 Q247.1,8.3 249.5,8.3 L433,8.3" fill="none" stroke="#000" stroke-width="1.3"/>
<line x1="249" y1="10.3" x2="431" y2="10.3" stroke="#000" stroke-width="1.0"/>
<line x1="433" y1="8.3" x2="516" y2="8.3" stroke="#000" stroke-width="1.0"/>
<line x1="248.9" y1="10.5" x2="248.9" y2="33" stroke="#555" stroke-width="0.8"/>
<line x1="431.3" y1="8.3" x2="431.3" y2="45" stroke="#333" stroke-width="1.3"/>
<line x1="425.2" y1="10" x2="425.2" y2="44" stroke="#000" stroke-width="1.6"/>
<line x1="430.2" y1="10" x2="430.2" y2="44" stroke="#999" stroke-width="1.2"/>
<path d="M432.2,17.7 L436,17.7 Q438,17.7 438,20 L438,43 L432.2,43" fill="none" stroke="#000" stroke-width="1.0"/>
<rect x="433" y="22" width="3" height="9" rx="0" fill="#777"/>
<rect x="434.5" y="33" width="2" height="6" rx="0" fill="#555"/>
<line x1="275.8" y1="31.4" x2="305.3" y2="31.4" stroke="#000" stroke-width="1.2"/>
<line x1="331.2" y1="31.4" x2="388.5" y2="31.4" stroke="#000" stroke-width="1.2"/>
<line x1="412" y1="31.4" x2="425" y2="31.4" stroke="#000" stroke-width="1.2"/>
<line x1="273.6" y1="34.4" x2="305.3" y2="34.4" stroke="#000" stroke-width="1.2"/>
<line x1="331.2" y1="34.4" x2="388.5" y2="34.4" stroke="#000" stroke-width="1.2"/>
<line x1="412" y1="34.4" x2="425" y2="34.4" stroke="#000" stroke-width="1.2"/>
<line x1="248.5" y1="31.4" x2="260.7" y2="31.4" stroke="#000" stroke-width="1.2"/>
<path d="M242.6,49.3 L242.6,37 Q242.6,34.6 245,34.6 L261.8,34.6" fill="none" stroke="#000" stroke-width="1.1"/>
<line x1="247.8" y1="35" x2="247.8" y2="49" stroke="#666" stroke-width="0.9"/>
<line x1="248.2" y1="45.0" x2="305.3" y2="45.0" stroke="#000" stroke-width="2.0"/>
<line x1="331.2" y1="45.0" x2="388.5" y2="45.0" stroke="#000" stroke-width="2.0"/>
<line x1="412" y1="45.0" x2="425" y2="45.0" stroke="#000" stroke-width="2.0"/>
<line x1="248.2" y1="47.1" x2="303" y2="47.1" stroke="#000" stroke-width="0.9"/>
<line x1="333" y1="47.1" x2="388" y2="47.1" stroke="#000" stroke-width="0.9"/>
<line x1="413" y1="47.1" x2="425" y2="47.1" stroke="#000" stroke-width="0.9"/>
<line x1="241.2" y1="49.3" x2="438" y2="49.3" stroke="#000" stroke-width="1.1"/>
<path d="M260.9,34.4 L260.9,26.4 A7.2,7.2 0 0 1 275.3,26.4 L275.3,34.4" fill="none" stroke="#444" stroke-width="1.0"/>
<circle cx="268.1" cy="26.4" r="5.5" fill="#000" stroke="#000" stroke-width="0"/>
<circle cx="268.1" cy="26.4" r="0.9" fill="#fff" stroke="#000" stroke-width="0"/>
<line x1="305.3" y1="38" x2="305.3" y2="45.2" stroke="#555" stroke-width="1.3"/>
<line x1="331.2" y1="38" x2="331.2" y2="45.2" stroke="#555" stroke-width="1.3"/>
<rect x="306.7" y="11.8" width="24.0" height="26.6" rx="0" fill="none" stroke="#000" stroke-width="2.2"/>
<circle cx="310.0" cy="16.3" r="2.0" fill="none" stroke="#000" stroke-width="1.3"/>
<circle cx="310.0" cy="33.9" r="2.0" fill="none" stroke="#000" stroke-width="1.3"/>
<circle cx="327.4" cy="16.3" r="2.0" fill="none" stroke="#000" stroke-width="1.3"/>
<circle cx="327.4" cy="33.9" r="2.0" fill="none" stroke="#000" stroke-width="1.3"/>
<path d="M312.09999999999997,16.3 Q318.7,20.6 325.3,16.3 L327.5,18.5 Q323.2,25.1 327.5,31.700000000000003 L325.3,33.900000000000006 Q318.7,29.6 312.09999999999997,33.900000000000006 L309.9,31.700000000000003 Q314.2,25.1 309.9,18.5 Z" fill="none" stroke="#000" stroke-width="1.2"/>
<circle cx="318.7" cy="25.1" r="5.6" fill="none" stroke="#222" stroke-width="2.4"/>
<circle cx="318.7" cy="25.1" r="3.5" fill="#000" stroke="#000" stroke-width="0"/>
<rect x="316.5" y="26.0" width="4.4" height="0.9" rx="0" fill="#fff"/>
<rect x="337.5" y="19.5" width="28" height="10.5" rx="3" fill="none" stroke="#000" stroke-width="2.0"/>
<rect x="347.58" y="21.81" width="1.4000000000000001" height="3.99" rx="0" fill="#111"/>
<rect x="350.66" y="22.65" width="1.4000000000000001" height="3.15" rx="0" fill="#111"/>
<rect x="353.74" y="21.81" width="1.4000000000000001" height="3.99" rx="0" fill="#111"/>
<rect x="340.86" y="25.8" width="21.28" height="1.4700000000000002" rx="0" fill="#222"/>
<rect x="343.1" y="27.27" width="16.8" height="1.05" rx="0" fill="#777"/>
<rect x="371.9" y="21.1" width="14.8" height="5.4" rx="1.2" fill="#000"/>
<rect x="373.4" y="22.2" width="1.4" height="3.3" rx="0" fill="#fff"/>
<rect x="378.8" y="23.4" width="3.2" height="2.2" rx="0" fill="#fff"/>
<rect x="383.2" y="22.2" width="1.8" height="3.2" rx="0" fill="#fff"/>
<line x1="389" y1="16" x2="389" y2="44.5" stroke="#777" stroke-width="1.2"/>
<line x1="411.6" y1="16" x2="411.6" y2="44.5" stroke="#777" stroke-width="1.2"/>
<rect x="391.2" y="16.8" width="19" height="20.2" rx="0" fill="none" stroke="#000" stroke-width="2.0"/>
<line x1="389.5" y1="38.3" x2="411" y2="38.3" stroke="#000" stroke-width="1.0"/>
<circle cx="393.3" cy="20" r="1.8" fill="#222" stroke="#000" stroke-width="0"/>
<circle cx="408" cy="20" r="1.8" fill="#222" stroke="#000" stroke-width="0"/>
<circle cx="393.3" cy="34.8" r="1.8" fill="#222" stroke="#000" stroke-width="0"/>
<circle cx="408" cy="34.8" r="1.8" fill="#222" stroke="#000" stroke-width="0"/>
<circle cx="400.6" cy="27.4" r="6.4" fill="none" stroke="#000" stroke-width="1.3"/>
<circle cx="400.6" cy="27.4" r="1.7" fill="none" stroke="#000" stroke-width="1.4"/>
<line x1="399.2" y1="28.5" x2="399.2" y2="78" stroke="#000" stroke-width="1.1"/>
<line x1="402.2" y1="28.5" x2="402.2" y2="78" stroke="#000" stroke-width="1.1"/>
<circle cx="400.7" cy="80.8" r="1.4" fill="none" stroke="#000" stroke-width="1.1"/>
<circle cx="400.7" cy="83.8" r="1.4" fill="none" stroke="#000" stroke-width="1.1"/>
<circle cx="400.7" cy="86.8" r="1.4" fill="none" stroke="#000" stroke-width="1.1"/>
<circle cx="400.7" cy="89.8" r="1.4" fill="none" stroke="#000" stroke-width="1.1"/>
<circle cx="400.7" cy="92.8" r="1.4" fill="none" stroke="#000" stroke-width="1.1"/>
<rect x="399.6" y="94.5" width="2.3" height="12.5" rx="0" fill="none" stroke="#000" stroke-width="1.0"/>
<rect x="399.0" y="107.3" width="3.6" height="8" rx="0" fill="none" stroke="#000" stroke-width="1.5"/>
<line x1="247.4" y1="51.9" x2="247.4" y2="89" stroke="#000" stroke-width="1.3"/>
<line x1="254.1" y1="52" x2="254.1" y2="88" stroke="#aaa" stroke-width="1.8"/>
<line x1="254" y1="52" x2="254" y2="63" stroke="#000" stroke-width="1.0"/>
<line x1="247.4" y1="89.0" x2="438" y2="89.0" stroke="#000" stroke-width="2.0"/>
<path d="M242.6,51.9 L265.3,51.9 Q267.4,51.9 267.4,54 L267.4,57" fill="none" stroke="#000" stroke-width="1.6"/>
<line x1="255" y1="53.9" x2="266" y2="53.9" stroke="#000" stroke-width="0.9"/>
<path d="M290.6,57 L290.6,54 Q290.6,51.9 292.7,51.9 L344.5,51.9 Q346.6,51.9 346.6,54 L346.6,58" fill="none" stroke="#000" stroke-width="1.6"/>
<line x1="292" y1="53.9" x2="345" y2="53.9" stroke="#000" stroke-width="0.9"/>
<path d="M375.1,58 L375.1,54 Q375.1,51.9 377.2,51.9 L429.5,51.9" fill="none" stroke="#000" stroke-width="1.6"/>
<line x1="376.5" y1="53.9" x2="429" y2="53.9" stroke="#000" stroke-width="0.9"/>
<line x1="267.4" y1="57" x2="267.4" y2="81" stroke="#666" stroke-width="1.6"/>
<line x1="290.6" y1="57" x2="290.6" y2="81" stroke="#666" stroke-width="1.6"/>
<line x1="255" y1="62.5" x2="267.4" y2="62.5" stroke="#000" stroke-width="1.1"/>
<line x1="290.6" y1="62.5" x2="346.6" y2="62.5" stroke="#000" stroke-width="1.1"/>
<line x1="375.1" y1="62.5" x2="404.5" y2="62.5" stroke="#000" stroke-width="1.1"/>
<line x1="418.5" y1="62.5" x2="429.5" y2="62.5" stroke="#000" stroke-width="1.1"/>
<line x1="255" y1="65.4" x2="267.4" y2="65.4" stroke="#000" stroke-width="1.1"/>
<line x1="290.6" y1="65.4" x2="346.6" y2="65.4" stroke="#000" stroke-width="1.1"/>
<line x1="375.1" y1="65.4" x2="404.5" y2="65.4" stroke="#000" stroke-width="1.1"/>
<line x1="418.5" y1="65.4" x2="429.5" y2="65.4" stroke="#000" stroke-width="1.1"/>
<line x1="430.2" y1="50" x2="430.2" y2="89" stroke="#555" stroke-width="1.6"/>
<line x1="432.4" y1="50" x2="432.4" y2="89" stroke="#999" stroke-width="1.0"/>
<path d="M432.4,45.7 L436,45.7 Q437.8,45.7 437.8,48 L437.8,63 Q437.8,65 436,65 L432.4,65" fill="none" stroke="#000" stroke-width="1.0"/>
<rect x="241.2" y="51.6" width="7" height="3" rx="0" fill="#000"/>
<rect x="241.6" y="55" width="6.2" height="4" rx="0" fill="none" stroke="#000" stroke-width="0.9"/>
<rect x="241.6" y="59.7" width="6.2" height="6.7" rx="1.5" fill="none" stroke="#000" stroke-width="1.2"/>
<rect x="241.6" y="67" width="6.2" height="3" rx="0" fill="none" stroke="#000" stroke-width="0.9"/>
<rect x="241.6" y="73.8" width="6.2" height="5.9" rx="1.5" fill="none" stroke="#000" stroke-width="1.2"/>
<rect x="269.5" y="60.5" width="19" height="18.2" rx="1" fill="none" stroke="#000" stroke-width="2.3"/>
<circle cx="272" cy="63" r="2.4" fill="#222" stroke="#000" stroke-width="0"/>
<circle cx="286.5" cy="63" r="2.4" fill="#222" stroke="#000" stroke-width="0"/>
<circle cx="272" cy="77" r="2.4" fill="#222" stroke="#000" stroke-width="0"/>
<circle cx="286.5" cy="77" r="2.4" fill="#222" stroke="#000" stroke-width="0"/>
<line x1="269.5" y1="81.5" x2="289" y2="81.5" stroke="#555" stroke-width="0.9"/>
<rect x="349.1" y="59.9" width="24.0" height="26.6" rx="0" fill="none" stroke="#000" stroke-width="2.2"/>
<line x1="349.1" y1="62.0" x2="373.1" y2="62.0" stroke="#000" stroke-width="1.4"/>
<circle cx="352.4" cy="64.4" r="2.0" fill="none" stroke="#000" stroke-width="1.3"/>
<circle cx="352.4" cy="82.0" r="2.0" fill="none" stroke="#000" stroke-width="1.3"/>
<circle cx="369.8" cy="64.4" r="2.0" fill="none" stroke="#000" stroke-width="1.3"/>
<circle cx="369.8" cy="82.0" r="2.0" fill="none" stroke="#000" stroke-width="1.3"/>
<path d="M354.5,64.4 Q361.1,68.7 367.70000000000005,64.4 L369.90000000000003,66.60000000000001 Q365.6,73.2 369.90000000000003,79.8 L367.70000000000005,82.0 Q361.1,77.7 354.5,82.0 L352.3,79.8 Q356.6,73.2 352.3,66.60000000000001 Z" fill="none" stroke="#000" stroke-width="1.2"/>
<circle cx="361.1" cy="73.2" r="5.6" fill="none" stroke="#222" stroke-width="2.4"/>
<circle cx="361.1" cy="73.2" r="3.5" fill="#000" stroke="#000" stroke-width="0"/>
<rect x="358.90000000000003" y="74.10000000000001" width="4.4" height="0.9" rx="0" fill="#fff"/>
<line x1="347.4" y1="58" x2="347.4" y2="88" stroke="#555" stroke-width="1.3"/>
<line x1="374.4" y1="58" x2="374.4" y2="88" stroke="#555" stroke-width="1.3"/>
<rect x="314.5" y="67.8" width="29" height="11.5" rx="3" fill="none" stroke="#000" stroke-width="2.0"/>
<rect x="324.94" y="70.33" width="1.4500000000000002" height="4.37" rx="0" fill="#111"/>
<rect x="328.13" y="71.25" width="1.4500000000000002" height="3.4499999999999997" rx="0" fill="#111"/>
<rect x="331.32" y="70.33" width="1.4500000000000002" height="4.37" rx="0" fill="#111"/>
<rect x="317.98" y="74.7" width="22.04" height="1.61" rx="0" fill="#222"/>
<rect x="320.3" y="76.31" width="17.4" height="1.1500000000000001" rx="0" fill="#777"/>
<path d="M404.5,62.5 Q405.5,66.5 407,67 M418.5,62.5 Q417.5,66.5 416,67" fill="none" stroke="#000" stroke-width="1.0"/>
<circle cx="411.5" cy="72.3" r="7.0" fill="none" stroke="#666" stroke-width="1.0"/>
<circle cx="411.5" cy="72.3" r="5.3" fill="#000" stroke="#000" stroke-width="0"/>
<circle cx="411.5" cy="72.3" r="0.9" fill="#fff" stroke="#000" stroke-width="0"/>
<line x1="296.1" y1="89" x2="296.1" y2="110" stroke="#000" stroke-width="1.3"/>
<line x1="318.5" y1="89" x2="318.5" y2="110" stroke="#000" stroke-width="1.3"/>
<line x1="382.6" y1="89" x2="382.6" y2="110" stroke="#000" stroke-width="1.3"/>
<line x1="296.1" y1="92.0" x2="318.5" y2="92.0" stroke="#000" stroke-width="0.9"/>
<line x1="361.2" y1="92.0" x2="382.6" y2="92.0" stroke="#000" stroke-width="0.9"/>
<line x1="296.1" y1="107.9" x2="318.5" y2="107.9" stroke="#000" stroke-width="0.9"/>
<line x1="361.2" y1="107.9" x2="382.6" y2="107.9" stroke="#000" stroke-width="0.9"/>
<line x1="296.1" y1="110.0" x2="331.7" y2="110.0" stroke="#000" stroke-width="1.7"/>
<line x1="348" y1="110.0" x2="382.6" y2="110.0" stroke="#000" stroke-width="1.7"/>
<polyline points="331.2,110.4 339.8,104.8 348.5,110.4" fill="none" stroke="#666" stroke-width="2.6"/>
<polyline points="331.2,110.4 339.8,104.8 348.5,110.4" fill="none" stroke="#fff" stroke-width="0.9"/>
<rect x="339" y="104.3" width="1.6" height="1.6" rx="0" fill="none" stroke="#000" stroke-width="0.7"/>
<circle cx="303.2" cy="107.2" r="2.0" fill="#fff" stroke="#000" stroke-width="1.3"/>
<circle cx="376" cy="107.2" r="2.0" fill="#fff" stroke="#000" stroke-width="1.3"/>
<line x1="375.1" y1="72.8" x2="404.5" y2="72.8" stroke="#000" stroke-width="1.1"/>
<line x1="218.4" y1="49.3" x2="240.6" y2="49.3" stroke="#000" stroke-width="0.9"/>
<line x1="218.4" y1="70.5" x2="276.7" y2="70.5" stroke="#000" stroke-width="0.9"/>
<line x1="219.9" y1="49.3" x2="219.9" y2="70.5" stroke="#000" stroke-width="0.9"/>
<polygon points="219.9,49.8 218.1,58.0 221.70000000000002,58.0" fill="#000"/>
<polygon points="219.9,70.0 218.1,61.8 221.70000000000002,61.8" fill="#000"/>
<g transform="translate(212.8,59.7) rotate(-90)"><path transform="translate(-5.05,-4.70)" d="M0,1.3 Q0.6,0 2,0 Q3.8,0 3.8,2.3 Q3.8,4.5 1.6,4.5 M1.6,4.5 Q4.1,4.5 4.1,6.9 Q4.1,9.4 2,9.4 Q0.5,9.4 0,8.1" fill="none" stroke="#000" stroke-width="0.95" stroke-linecap="round" stroke-linejoin="round"/><path transform="translate(1.05,-4.70)" d="M2,0 Q0,0 0,4.7 Q0,9.4 2,9.4 Q4,9.4 4,4.7 Q4,0 2,0 Z" fill="none" stroke="#000" stroke-width="0.95" stroke-linecap="round" stroke-linejoin="round"/></g>
<line x1="437.7" y1="49.1" x2="487.8" y2="49.1" stroke="#000" stroke-width="0.9"/>
<line x1="421.5" y1="73" x2="487.8" y2="73" stroke="#000" stroke-width="1.5"/>
<line x1="464.2" y1="29.5" x2="464.2" y2="73" stroke="#000" stroke-width="0.9"/>
<polygon points="464.2,49.6 462.4,57.8 466.0,57.8" fill="#000"/>
<polygon points="464.2,72.5 462.4,64.3 466.0,64.3" fill="#000"/>
<line x1="485.3" y1="26.3" x2="485.3" y2="73" stroke="#000" stroke-width="0.9"/>
<polygon points="485.3,49.6 483.5,57.8 487.1,57.8" fill="#000"/>
<polygon points="485.3,72.5 483.5,64.3 487.1,64.3" fill="#000"/>
<g transform="translate(458.4,34.5) rotate(-90)"><path transform="translate(-5.05,-4.70)" d="M0,1.3 Q0.6,0 2,0 Q3.8,0 3.8,2.3 Q3.8,4.5 1.6,4.5 M1.6,4.5 Q4.1,4.5 4.1,6.9 Q4.1,9.4 2,9.4 Q0.5,9.4 0,8.1" fill="none" stroke="#000" stroke-width="0.95" stroke-linecap="round" stroke-linejoin="round"/><path transform="translate(1.05,-4.70)" d="M0.1,2.2 Q0.2,0 2,0 Q3.9,0 3.9,2.3 Q3.9,4 2.4,5.6 L0,9.2 L0,9.4 L4,9.4" fill="none" stroke="#000" stroke-width="0.95" stroke-linecap="round" stroke-linejoin="round"/></g>
<g transform="translate(479.6,32.2) rotate(-90)"><path transform="translate(-5.05,-4.70)" d="M0,1.3 Q0.6,0 2,0 Q3.8,0 3.8,2.3 Q3.8,4.5 1.6,4.5 M1.6,4.5 Q4.1,4.5 4.1,6.9 Q4.1,9.4 2,9.4 Q0.5,9.4 0,8.1" fill="none" stroke="#000" stroke-width="0.95" stroke-linecap="round" stroke-linejoin="round"/><path transform="translate(1.05,-4.70)" d="M3,9.4 L3,0 L0,6.6 L4.3,6.6" fill="none" stroke="#000" stroke-width="0.95" stroke-linecap="round" stroke-linejoin="round"/></g>
<line x1="432.5" y1="89.2" x2="516" y2="89.2" stroke="#000" stroke-width="0.9"/>
<line x1="513.2" y1="8.6" x2="513.2" y2="89.2" stroke="#000" stroke-width="0.9"/>
<polygon points="513.2,9.1 511.40000000000003,17.299999999999997 515.0,17.299999999999997" fill="#000"/>
<polygon points="513.2,88.7 511.40000000000003,80.5 515.0,80.5" fill="#000"/>
<g transform="translate(506.8,48.7) rotate(-90)"><path transform="translate(-8.10,-4.70)" d="M2,0 L2,9.4" fill="none" stroke="#000" stroke-width="0.95" stroke-linecap="round" stroke-linejoin="round"/><path transform="translate(-2.00,-4.70)" d="M2,0 L2,9.4" fill="none" stroke="#000" stroke-width="0.95" stroke-linecap="round" stroke-linejoin="round"/><path transform="translate(4.10,-4.70)" d="M0,1.3 Q0.6,0 2,0 Q3.8,0 3.8,2.3 Q3.8,4.5 1.6,4.5 M1.6,4.5 Q4.1,4.5 4.1,6.9 Q4.1,9.4 2,9.4 Q0.5,9.4 0,8.1" fill="none" stroke="#000" stroke-width="0.95" stroke-linecap="round" stroke-linejoin="round"/></g>
<line x1="438.4" y1="50" x2="438.4" y2="118.5" stroke="#000" stroke-width="0.9"/>
<line x1="411.4" y1="73" x2="411.4" y2="118.7" stroke="#000" stroke-width="0.9"/>
<line x1="411.4" y1="117.2" x2="460.2" y2="117.2" stroke="#000" stroke-width="0.9"/>
<polygon points="411.9,117.2 420.09999999999997,115.4 420.09999999999997,119.0" fill="#000"/>
<polygon points="438,117.2 429.8,115.4 429.8,119.0" fill="#000"/>
<g transform="translate(453,111.3)"><path transform="translate(-5.05,-4.70)" d="M0,1.3 Q0.6,0 2,0 Q3.8,0 3.8,2.3 Q3.8,4.5 1.6,4.5 M1.6,4.5 Q4.1,4.5 4.1,6.9 Q4.1,9.4 2,9.4 Q0.5,9.4 0,8.1" fill="none" stroke="#000" stroke-width="0.95" stroke-linecap="round" stroke-linejoin="round"/><path transform="translate(1.05,-4.70)" d="M2,4.4 Q0.2,4.4 0.2,2.2 Q0.2,0 2,0 Q3.8,0 3.8,2.2 Q3.8,4.4 2,4.4 Q0,4.4 0,6.9 Q0,9.4 2,9.4 Q4,9.4 4,6.9 Q4,4.4 2,4.4 Z" fill="none" stroke="#000" stroke-width="0.95" stroke-linecap="round" stroke-linejoin="round"/></g>
<line x1="360.5" y1="87" x2="360.5" y2="146" stroke="#000" stroke-width="1.6"/>
<line x1="360.5" y1="144.7" x2="438.5" y2="144.7" stroke="#000" stroke-width="0.9"/>
<polygon points="361,144.7 369.2,142.89999999999998 369.2,146.5" fill="#000"/>
<polygon points="438,144.7 429.8,142.89999999999998 429.8,146.5" fill="#000"/>
<g transform="translate(400.2,137.8)"><path transform="translate(-14.20,-4.70)" d="M2,0 L2,9.4" fill="none" stroke="#000" stroke-width="0.95" stroke-linecap="round" stroke-linejoin="round"/><path transform="translate(-8.10,-4.70)" d="M2,0 Q0,0 0,4.7 Q0,9.4 2,9.4 Q4,9.4 4,4.7 Q4,0 2,0 Z" fill="none" stroke="#000" stroke-width="0.95" stroke-linecap="round" stroke-linejoin="round"/><path transform="translate(-2.00,-4.70)" d="M2,4.4 Q0.2,4.4 0.2,2.2 Q0.2,0 2,0 Q3.8,0 3.8,2.2 Q3.8,4.4 2,4.4 Q0,4.4 0,6.9 Q0,9.4 2,9.4 Q4,9.4 4,6.9 Q4,4.4 2,4.4 Z" fill="none" stroke="#000" stroke-width="0.95" stroke-linecap="round" stroke-linejoin="round"/><circle cx="6.10" cy="4.30" r="0.75" fill="#000"/><path transform="translate(10.20,-4.70)" d="M3,9.4 L3,0 L0,6.6 L4.3,6.6" fill="none" stroke="#000" stroke-width="0.95" stroke-linecap="round" stroke-linejoin="round"/></g>
<line x1="278.5" y1="70.5" x2="278.5" y2="167.5" stroke="#000" stroke-width="0.9"/>
<line x1="438.5" y1="118" x2="438.5" y2="167.5" stroke="#000" stroke-width="0.9"/>
<line x1="278.5" y1="165.5" x2="438.5" y2="165.5" stroke="#000" stroke-width="0.9"/>
<polygon points="279,165.5 287.2,163.7 287.2,167.3" fill="#000"/>
<polygon points="438,165.5 429.8,163.7 429.8,167.3" fill="#000"/>
<g transform="translate(359,158.3)"><path transform="translate(-8.10,-4.70)" d="M0.1,2.2 Q0.2,0 2,0 Q3.9,0 3.9,2.3 Q3.9,4 2.4,5.6 L0,9.2 L0,9.4 L4,9.4" fill="none" stroke="#000" stroke-width="0.95" stroke-linecap="round" stroke-linejoin="round"/><path transform="translate(-2.00,-4.70)" d="M0.1,2.2 Q0.2,0 2,0 Q3.9,0 3.9,2.3 Q3.9,4 2.4,5.6 L0,9.2 L0,9.4 L4,9.4" fill="none" stroke="#000" stroke-width="0.95" stroke-linecap="round" stroke-linejoin="round"/><path transform="translate(4.10,-4.70)" d="M0,1.3 Q0.6,0 2,0 Q3.8,0 3.8,2.3 Q3.8,4.5 1.6,4.5 M1.6,4.5 Q4.1,4.5 4.1,6.9 Q4.1,9.4 2,9.4 Q0.5,9.4 0,8.1" fill="none" stroke="#000" stroke-width="0.95" stroke-linecap="round" stroke-linejoin="round"/></g>
<rect x="240.8" y="268.9" width="198.3" height="8.9" rx="0" fill="#000"/>
<rect x="240.8" y="450.7" width="198.3" height="8.9" rx="0" fill="#000"/>
<rect x="240.8" y="268.9" width="8.2" height="190.7" rx="0" fill="#000"/>
<rect x="431.0" y="268.9" width="8.1" height="190.7" rx="0" fill="#000"/>
<line x1="249.8" y1="274.4" x2="430.1" y2="274.4" stroke="#fff" stroke-width="1.3"/>
<line x1="249.8" y1="276.45" x2="430.1" y2="276.45" stroke="#fff" stroke-width="1.2"/>
<line x1="249.8" y1="452.5" x2="430.1" y2="452.5" stroke="#fff" stroke-width="1.0"/>
<line x1="249.8" y1="454.85" x2="430.1" y2="454.85" stroke="#aaa" stroke-width="1.4"/>
<line x1="249.8" y1="457.4" x2="430.1" y2="457.4" stroke="#fff" stroke-width="1.0"/>
<line x1="244.5" y1="281" x2="244.5" y2="448" stroke="#fff" stroke-width="1.0"/>
<line x1="433.5" y1="281" x2="433.5" y2="419.2" stroke="#fff" stroke-width="1.0"/>
<line x1="436.4" y1="281" x2="436.4" y2="419.2" stroke="#fff" stroke-width="1.0"/>
<rect x="249.0" y="277.8" width="182.0" height="172.9" rx="0" fill="#fff"/>
<path d="M240.8,268.9 L253.8,268.9 A13,13 0 0 1 240.8,281.9 Z" fill="#1e1e1e" stroke="#000" stroke-width="0"/>
<circle cx="243.21" cy="271.31" r="1.17" fill="#aaa" stroke="#000" stroke-width="0"/>
<circle cx="243.21" cy="278.19" r="1.17" fill="#aaa" stroke="#000" stroke-width="0"/>
<circle cx="246.65" cy="274.75" r="1.17" fill="#aaa" stroke="#000" stroke-width="0"/>
<circle cx="250.09" cy="271.31" r="1.17" fill="#aaa" stroke="#000" stroke-width="0"/>
<path d="M439.1,268.9 L431.1,268.9 A8,8 0 0 0 439.1,276.9 Z" fill="#1e1e1e" stroke="#000" stroke-width="0"/>
<circle cx="437.62" cy="270.38" r="0.72" fill="#aaa" stroke="#000" stroke-width="0"/>
<circle cx="437.62" cy="274.62" r="0.72" fill="#aaa" stroke="#000" stroke-width="0"/>
<circle cx="435.5" cy="272.5" r="0.72" fill="#aaa" stroke="#000" stroke-width="0"/>
<circle cx="433.38" cy="270.38" r="0.72" fill="#aaa" stroke="#000" stroke-width="0"/>
<path d="M240.8,459.6 L250.8,459.6 A10,10 0 0 0 240.8,449.6 Z" fill="#1e1e1e" stroke="#000" stroke-width="0"/>
<circle cx="242.65" cy="457.75" r="0.8999999999999999" fill="#aaa" stroke="#000" stroke-width="0"/>
<circle cx="242.65" cy="452.45" r="0.8999999999999999" fill="#aaa" stroke="#000" stroke-width="0"/>
<circle cx="245.3" cy="455.1" r="0.8999999999999999" fill="#aaa" stroke="#000" stroke-width="0"/>
<circle cx="247.95" cy="457.75" r="0.8999999999999999" fill="#aaa" stroke="#000" stroke-width="0"/>
<path d="M439.1,459.6 L426.1,459.6 A13,13 0 0 1 439.1,446.6 Z" fill="#1e1e1e" stroke="#000" stroke-width="0"/>
<circle cx="436.69" cy="457.19" r="1.17" fill="#aaa" stroke="#000" stroke-width="0"/>
<circle cx="436.69" cy="450.31" r="1.17" fill="#aaa" stroke="#000" stroke-width="0"/>
<circle cx="433.25" cy="453.75" r="1.17" fill="#aaa" stroke="#000" stroke-width="0"/>
<circle cx="429.81" cy="457.19" r="1.17" fill="#aaa" stroke="#000" stroke-width="0"/>
<line x1="241.1" y1="227.5" x2="439" y2="227.5" stroke="#000" stroke-width="0.9"/>
<polygon points="241.6,227.5 249.79999999999998,225.7 249.79999999999998,229.3" fill="#000"/>
<polygon points="438.5,227.5 430.3,225.7 430.3,229.3" fill="#000"/>
<line x1="241.3" y1="227" x2="241.3" y2="269" stroke="#000" stroke-width="0.9"/>
<line x1="438.6" y1="227" x2="438.6" y2="269" stroke="#000" stroke-width="0.9"/>
<g transform="translate(339.8,221.2)"><path transform="translate(-8.10,-4.70)" d="M0.1,2.2 Q0.2,0 2,0 Q3.9,0 3.9,2.3 Q3.9,4 2.4,5.6 L0,9.2 L0,9.4 L4,9.4" fill="none" stroke="#000" stroke-width="0.95" stroke-linecap="round" stroke-linejoin="round"/><path transform="translate(-2.00,-4.70)" d="M0,0 L4,0 Q2,4 1.7,9.4" fill="none" stroke="#000" stroke-width="0.95" stroke-linecap="round" stroke-linejoin="round"/><path transform="translate(4.10,-4.70)" d="M3.7,1.0 Q3.1,0 2,0 Q0,0 0,4.7 L0,6.3 Q0,9.4 2,9.4 Q4,9.4 4,6.4 Q4,3.6 2,3.6 Q0,3.6 0,6" fill="none" stroke="#000" stroke-width="0.95" stroke-linecap="round" stroke-linejoin="round"/></g>
<line x1="439" y1="269.3" x2="477.3" y2="269.3" stroke="#000" stroke-width="0.9"/>
<line x1="439" y1="459.2" x2="477.3" y2="459.2" stroke="#000" stroke-width="0.9"/>
<line x1="474.7" y1="269.3" x2="474.7" y2="459.2" stroke="#000" stroke-width="0.9"/>
<polygon points="474.7,269.8 472.9,278.0 476.5,278.0" fill="#000"/>
<polygon points="474.7,458.7 472.9,450.5 476.5,450.5" fill="#000"/>
<g transform="translate(468,364.4) rotate(-90)"><path transform="translate(-8.10,-4.70)" d="M0.1,2.2 Q0.2,0 2,0 Q3.9,0 3.9,2.3 Q3.9,4 2.4,5.6 L0,9.2 L0,9.4 L4,9.4" fill="none" stroke="#000" stroke-width="0.95" stroke-linecap="round" stroke-linejoin="round"/><path transform="translate(-2.00,-4.70)" d="M3.7,1.0 Q3.1,0 2,0 Q0,0 0,4.7 L0,6.3 Q0,9.4 2,9.4 Q4,9.4 4,6.4 Q4,3.6 2,3.6 Q0,3.6 0,6" fill="none" stroke="#000" stroke-width="0.95" stroke-linecap="round" stroke-linejoin="round"/><path transform="translate(4.10,-4.70)" d="M3.7,1.0 Q3.1,0 2,0 Q0,0 0,4.7 L0,6.3 Q0,9.4 2,9.4 Q4,9.4 4,6.4 Q4,3.6 2,3.6 Q0,3.6 0,6" fill="none" stroke="#000" stroke-width="0.95" stroke-linecap="round" stroke-linejoin="round"/></g>
<path d="M296.3,269 L296.3,253.1 Q296.3,243.1 306.3,243.1 L372.8,243.1 Q382.8,243.1 382.8,253.1 L382.8,269" fill="none" stroke="#000" stroke-width="1.1"/>
<line x1="331.5" y1="243.1" x2="331.5" y2="265.8" stroke="#000" stroke-width="1.0"/>
<line x1="333.5" y1="243.1" x2="333.5" y2="265.8" stroke="#000" stroke-width="1.0"/>
<line x1="335.5" y1="243.1" x2="335.5" y2="265.8" stroke="#000" stroke-width="1.0"/>
<line x1="337.5" y1="243.1" x2="337.5" y2="265.8" stroke="#000" stroke-width="1.0"/>
<line x1="339.5" y1="243.1" x2="339.5" y2="265.8" stroke="#000" stroke-width="1.0"/>
<line x1="341.5" y1="243.1" x2="341.5" y2="265.8" stroke="#000" stroke-width="1.0"/>
<line x1="343.5" y1="243.1" x2="343.5" y2="265.8" stroke="#000" stroke-width="1.0"/>
<line x1="345.5" y1="243.1" x2="345.5" y2="265.8" stroke="#000" stroke-width="1.0"/>
<line x1="347.5" y1="243.1" x2="347.5" y2="265.8" stroke="#000" stroke-width="1.0"/>
<path d="M331.4,269 Q333,265.3 336,265.3 L344,265.3 Q347,265.3 348.5,269" fill="#fff" stroke="#000" stroke-width="1"/>
<rect x="306.1" y="257" width="25.0" height="11.5" rx="0" fill="#000"/>
<rect x="313" y="259.1" width="13" height="5.9" rx="0" fill="#fff"/>
<rect x="307.2" y="261.5" width="1.3" height="3.2" rx="0" fill="#fff"/>
<rect x="309.3" y="261.5" width="2.0" height="3.2" rx="0" fill="#fff"/>
<rect x="327" y="261.5" width="2" height="3.2" rx="0" fill="#fff"/>
<rect x="329.6" y="261.5" width="0.6" height="3.2" rx="0" fill="#fff"/>
<rect x="308" y="265.9" width="22" height="1.2" rx="0" fill="#fff"/>
<rect x="322.2" y="249" width="8.0" height="12" rx="1.2" fill="#fff" stroke="#000" stroke-width="1.3"/>
<rect x="348.5" y="257" width="25.0" height="11.5" rx="0" fill="#000"/>
<rect x="353.6" y="259.1" width="13.0" height="5.9" rx="0" fill="#fff"/>
<rect x="371.1" y="261.5" width="1.3" height="3.2" rx="0" fill="#fff"/>
<rect x="368.3" y="261.5" width="2.0" height="3.2" rx="0" fill="#fff"/>
<rect x="350.6" y="261.5" width="2.0" height="3.2" rx="0" fill="#fff"/>
<rect x="349.4" y="261.5" width="0.6" height="3.2" rx="0" fill="#fff"/>
<rect x="349.6" y="265.9" width="22.0" height="1.2" rx="0" fill="#fff"/>
<rect x="349.4" y="249" width="8.0" height="12" rx="1.2" fill="#fff" stroke="#000" stroke-width="1.3"/>
<rect x="306.8" y="269.3" width="23.6" height="4.6" rx="0" fill="#fff"/>
<line x1="306.6" y1="269.3" x2="306.6" y2="273.9" stroke="#000" stroke-width="1.0"/>
<line x1="330.5" y1="269.3" x2="330.5" y2="273.9" stroke="#000" stroke-width="1.0"/>
<line x1="306.6" y1="274.2" x2="330.5" y2="274.2" stroke="#000" stroke-width="0.8"/>
<circle cx="305.8" cy="282" r="3.6" fill="none" stroke="#000" stroke-width="2.1"/>
<circle cx="305.8" cy="282" r="1.3" fill="none" stroke="#000" stroke-width="0.7"/>
<circle cx="373.9" cy="282" r="3.6" fill="none" stroke="#000" stroke-width="2.1"/>
<circle cx="373.9" cy="282" r="1.3" fill="none" stroke="#000" stroke-width="0.7"/>
<path d="M296.8,459.8 L296.8,475.4 Q296.8,485.4 306.8,485.4 L372.8,485.4 Q382.8,485.4 382.8,475.4 L382.8,459.8" fill="none" stroke="#000" stroke-width="1.1"/>
<line x1="331.5" y1="460" x2="331.5" y2="485.4" stroke="#000" stroke-width="1.0"/>
<line x1="333.5" y1="460" x2="333.5" y2="485.4" stroke="#000" stroke-width="1.0"/>
<line x1="335.5" y1="460" x2="335.5" y2="485.4" stroke="#000" stroke-width="1.0"/>
<line x1="337.5" y1="460" x2="337.5" y2="485.4" stroke="#000" stroke-width="1.0"/>
<line x1="339.5" y1="460" x2="339.5" y2="485.4" stroke="#000" stroke-width="1.0"/>
<line x1="341.5" y1="460" x2="341.5" y2="485.4" stroke="#000" stroke-width="1.0"/>
<line x1="343.5" y1="460" x2="343.5" y2="485.4" stroke="#000" stroke-width="1.0"/>
<line x1="345.5" y1="460" x2="345.5" y2="485.4" stroke="#000" stroke-width="1.0"/>
<line x1="347.5" y1="460" x2="347.5" y2="485.4" stroke="#000" stroke-width="1.0"/>
<path d="M331.4,459.8 Q333,463.4 336,463.4 L344,463.4 Q347,463.4 348.5,459.8" fill="#fff" stroke="#000" stroke-width="1"/>
<rect x="306.1" y="460.3" width="25.0" height="11.5" rx="0" fill="#000"/>
<rect x="313" y="463.8" width="13" height="5.9" rx="0" fill="#fff"/>
<rect x="307.2" y="464.1" width="1.3" height="3.2" rx="0" fill="#fff"/>
<rect x="309.3" y="464.1" width="2.0" height="3.2" rx="0" fill="#fff"/>
<rect x="327" y="464.1" width="2" height="3.2" rx="0" fill="#fff"/>
<rect x="329.6" y="464.1" width="0.6" height="3.2" rx="0" fill="#fff"/>
<rect x="308" y="461.7" width="22" height="1.2" rx="0" fill="#fff"/>
<rect x="322.2" y="467.8" width="8.0" height="12.0" rx="1.2" fill="#fff" stroke="#000" stroke-width="1.3"/>
<rect x="348.5" y="460.3" width="25.0" height="11.5" rx="0" fill="#000"/>
<rect x="353.6" y="463.8" width="13.0" height="5.9" rx="0" fill="#fff"/>
<rect x="371.1" y="464.1" width="1.3" height="3.2" rx="0" fill="#fff"/>
<rect x="368.3" y="464.1" width="2.0" height="3.2" rx="0" fill="#fff"/>
<rect x="350.6" y="464.1" width="2.0" height="3.2" rx="0" fill="#fff"/>
<rect x="349.4" y="464.1" width="0.6" height="3.2" rx="0" fill="#fff"/>
<rect x="349.6" y="461.7" width="22.0" height="1.2" rx="0" fill="#fff"/>
<rect x="349.4" y="467.8" width="8.0" height="12.0" rx="1.2" fill="#fff" stroke="#000" stroke-width="1.3"/>
<rect x="306.8" y="455.0" width="23.6" height="4.8" rx="0" fill="#fff"/>
<line x1="306.6" y1="454.8" x2="306.6" y2="459.8" stroke="#000" stroke-width="1.0"/>
<line x1="330.5" y1="454.8" x2="330.5" y2="459.8" stroke="#000" stroke-width="1.0"/>
<line x1="306.6" y1="454.6" x2="330.5" y2="454.6" stroke="#000" stroke-width="0.8"/>
<circle cx="305.7" cy="446.4" r="3.6" fill="none" stroke="#000" stroke-width="2.1"/>
<circle cx="305.7" cy="446.4" r="1.3" fill="none" stroke="#000" stroke-width="0.7"/>
<circle cx="373.9" cy="446.4" r="3.6" fill="none" stroke="#000" stroke-width="2.1"/>
<circle cx="373.9" cy="446.4" r="1.3" fill="none" stroke="#000" stroke-width="0.7"/>
<rect x="271" y="358.7" width="11.2" height="11.3" rx="1.2" fill="none" stroke="#000" stroke-width="1.8"/>
<circle cx="276.6" cy="364.2" r="2.6" fill="none" stroke="#000" stroke-width="1.4"/>
<rect x="273" y="366.5" width="6" height="1.2" rx="0" fill="#000"/>
<rect x="242.5" y="373" width="3" height="6" rx="0" fill="#fff" stroke="#000" stroke-width="0.8"/>
<path d="M433.5,368.5 A8.3,8.3 0 0 0 433.5,385.1 Z" fill="#444" stroke="#000" stroke-width="1.2"/>
<path d="M433.5,370.99 A5.8100000000000005,5.8100000000000005 0 0 0 433.5,382.61" fill="none" stroke="#ccc" stroke-width="0.8"/>
<path d="M433.5,373.48 A3.3200000000000003,3.3200000000000003 0 0 0 433.5,380.12" fill="none" stroke="#ccc" stroke-width="0.8"/>
<circle cx="434.5" cy="376.8" r="1.2" fill="#fff" stroke="#000" stroke-width="0"/>
<rect x="263.2" y="455.9" width="9.7" height="7.2" rx="0" fill="#fff" stroke="#000" stroke-width="1.0"/>
<rect x="262.5" y="463" width="11" height="3.5" rx="0" fill="#000"/>
<rect x="264" y="466.5" width="8" height="3.5" rx="0" fill="none" stroke="#000" stroke-width="1.0"/>
<rect x="265.5" y="470" width="5.5" height="3" rx="0" fill="none" stroke="#000" stroke-width="1.0"/>
<rect x="266.5" y="473" width="3.5" height="2.7" rx="0" fill="none" stroke="#000" stroke-width="1.0"/>
<rect x="272.9" y="461" width="16.3" height="3.2" rx="0" fill="#000"/>
<rect x="283" y="464" width="6.2" height="3.5" rx="0" fill="#000"/>
<rect x="390.4" y="455" width="21.2" height="6.6" rx="0" fill="#fff" stroke="#000" stroke-width="1.0"/>
<rect x="390.8" y="461.6" width="19.9" height="5.5" rx="0" fill="#000"/>
<rect x="393" y="467" width="14" height="2.6" rx="0" fill="#000"/>
<rect x="397.9" y="469.4" width="6.1" height="3.3" rx="0" fill="#000"/>
<rect x="408" y="460" width="8" height="4" rx="0" fill="none" stroke="#000" stroke-width="1.0"/>
<rect x="409" y="464" width="6" height="5" rx="0" fill="none" stroke="#000" stroke-width="1.0"/>
<rect x="409.5" y="469" width="5" height="3" rx="0" fill="none" stroke="#000" stroke-width="1.0"/>
<rect x="410.5" y="472" width="3" height="2.8" rx="0" fill="none" stroke="#000" stroke-width="1.0"/>
<rect x="433.0" y="426.3" width="3.5" height="5.9" rx="0" fill="#fff"/>
<rect x="433.0" y="439.3" width="3.5" height="4.7" rx="0" fill="#fff"/>
<rect x="434.2" y="433.2" width="1.3" height="4" rx="0" fill="#fff"/>
</svg></body></html>
